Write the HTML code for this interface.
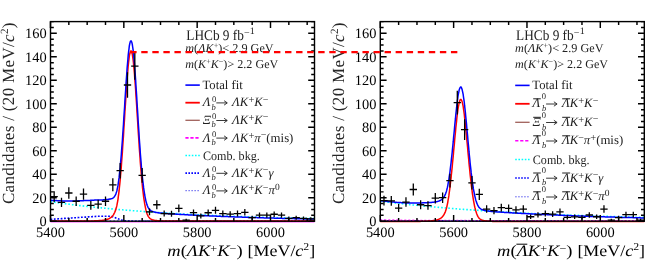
<!DOCTYPE html>
<html><head><meta charset="utf-8"><style>
html,body{margin:0;padding:0;background:#fff;}
svg{display:block;will-change:transform;}
text{font-family:"Liberation Serif",serif;text-rendering:geometricPrecision;}
</style></head><body>
<svg width="661" height="267" viewBox="0 0 661 267">
<g><path d="M50.5,201.7 L52.0,201.9 L53.4,202.1 L54.9,202.3 L56.4,202.5 L57.8,202.8 L59.3,203.0 L60.8,203.2 L62.2,203.4 L63.7,203.5 L65.2,203.7 L66.6,203.9 L68.1,204.1 L69.6,204.3 L71.0,204.5 L72.5,204.7 L74.0,204.9 L75.4,205.0 L76.9,205.2 L78.4,205.4 L79.8,205.6 L81.3,205.7 L82.8,205.9 L84.2,206.1 L85.7,206.2 L87.2,206.4 L88.6,206.6 L90.1,206.7 L91.6,206.9 L93.0,207.0 L94.5,207.2 L96.0,207.3 L97.4,207.5 L98.9,207.6 L100.4,207.8 L101.8,207.9 L103.3,208.1 L104.8,208.2 L106.2,208.4 L107.7,208.5 L109.2,208.6 L110.6,208.8 L112.1,208.9 L113.6,209.1 L115.0,209.2 L116.5,209.3 L118.0,209.4 L119.4,209.6 L120.9,209.7 L122.4,209.8 L123.8,210.0 L125.3,210.1 L126.8,210.2 L128.2,210.3 L129.7,210.4 L131.2,210.6 L132.6,210.7 L134.1,210.8 L135.6,210.9 L137.0,211.0 L138.5,211.1 L140.0,211.2 L141.4,211.3 L142.9,211.5 L144.4,211.6 L145.8,211.7 L147.3,211.8 L148.8,211.9 L150.2,212.0 L151.7,212.1 L153.2,212.2 L154.6,212.3 L156.1,212.4 L157.6,212.5 L159.0,212.6 L160.5,212.7 L162.0,212.8 L163.4,212.8 L164.9,212.9 L166.4,213.0 L167.8,213.1 L169.3,213.2 L170.8,213.3 L172.2,213.4 L173.7,213.5 L175.2,213.5 L176.6,213.6 L178.1,213.7 L179.6,213.8 L181.0,213.9 L182.5,214.0 L184.0,214.0 L185.4,214.1 L186.9,214.2 L188.4,214.3 L189.8,214.3 L191.3,214.4 L192.8,214.5 L194.2,214.6 L195.7,214.6 L197.2,214.7 L198.6,214.8 L200.1,214.9 L201.6,214.9 L203.0,215.0 L204.5,215.1 L206.0,215.1 L207.4,215.2 L208.9,215.3 L210.4,215.3 L211.8,215.4 L213.3,215.5 L214.8,215.5 L216.2,215.6 L217.7,215.6 L219.2,215.7 L220.6,215.8 L222.1,215.8 L223.6,215.9 L225.0,215.9 L226.5,216.0 L228.0,216.1 L229.4,216.1 L230.9,216.2 L232.4,216.2 L233.8,216.3 L235.3,216.3 L236.8,216.4 L238.2,216.4 L239.7,216.5 L241.2,216.5 L242.6,216.6 L244.1,216.6 L245.6,216.7 L247.0,216.7 L248.5,216.8 L250.0,216.8 L251.4,216.9 L252.9,216.9 L254.4,217.0 L255.8,217.0 L257.3,217.1 L258.8,217.1 L260.2,217.2 L261.7,217.2 L263.2,217.2 L264.6,217.3 L266.1,217.3 L267.6,217.4 L269.0,217.4 L270.5,217.5 L272.0,217.5 L273.4,217.5 L274.9,217.6 L276.4,217.6 L277.8,217.7 L279.3,217.7 L280.8,217.7 L282.2,217.8 L283.7,217.8 L285.2,217.8 L286.6,217.9 L288.1,217.9 L289.6,218.0 L291.0,218.0 L292.5,218.0 L294.0,218.1 L295.4,218.1 L296.9,218.1 L298.4,218.2 L299.8,218.2 L301.3,218.2 L302.8,218.3 L304.2,218.3 L305.7,218.3 L307.2,218.4 L308.6,218.4 L310.1,218.4 L311.6,218.4 L313.0,218.5 L314.5,218.5" fill="none" stroke="#00ffff" stroke-width="1.6" stroke-dasharray="1.6,2"/>
<path d="M50.5,219.3 L51.2,219.3 L52.0,219.2 L52.7,219.2 L53.4,219.1 L54.2,219.1 L54.9,219.0 L55.6,219.0 L56.4,218.9 L57.1,218.9 L57.8,218.9 L58.6,218.8 L59.3,218.8 L60.0,218.7 L60.8,218.7 L61.5,218.6 L62.2,218.6 L63.0,218.5 L63.7,218.5 L64.4,218.4 L65.2,218.4 L65.9,218.3 L66.6,218.3 L67.4,218.2 L68.1,218.2 L68.8,218.1 L69.6,218.1 L70.3,218.1 L71.0,218.0 L71.8,218.0 L72.5,217.9 L73.2,217.9 L74.0,217.8 L74.7,217.8 L75.4,217.7 L76.2,217.7 L76.9,217.6 L77.6,217.6 L78.4,217.5 L79.1,217.5 L79.8,217.4 L80.6,217.4 L81.3,217.3 L82.0,217.3 L82.8,217.3 L83.5,217.2 L84.2,217.2 L85.0,217.1 L85.7,217.1 L86.4,217.0 L87.2,217.0 L87.9,216.9 L88.6,216.9 L89.4,216.8 L90.1,216.8 L90.8,216.7 L91.6,216.7 L92.3,216.6 L93.0,216.6 L93.8,216.6 L94.5,216.5 L95.2,216.5 L96.0,216.4 L96.7,216.4 L97.4,216.3 L98.2,216.3 L98.9,216.3 L99.6,216.3 L100.4,216.3 L101.1,216.3 L101.8,216.3 L102.6,216.3 L103.3,216.3 L104.0,216.3 L104.8,216.3 L105.5,216.3 L106.2,216.3 L107.0,216.3 L107.7,216.3 L108.4,216.3 L109.2,216.3 L109.9,216.3 L110.6,216.4 L111.4,216.5 L112.1,216.6 L112.8,216.8 L113.6,217.1 L114.3,217.3 L115.0,217.6 L115.8,217.9 L116.5,218.2 L117.2,218.5 L118.0,218.8 L118.7,219.1 L119.4,219.3 L120.2,219.6 L120.9,219.8 L121.6,220.0 L122.4,220.2 L123.1,220.4 L123.8,220.5 L124.6,220.7 L125.3,220.8 L126.0,220.8 L126.8,220.9 L127.5,221.0 L128.2,221.0 L129.0,221.1 L129.7,221.1 L130.4,221.1 L131.2,221.1 L131.9,221.2 L132.6,221.2 L133.4,221.2 L134.1,221.2 L134.8,221.2 L135.6,221.2 L136.3,221.2 L137.0,221.2 L137.8,221.2 L138.5,221.2 L139.2,221.2 L140.0,221.2 L140.7,221.2 L141.4,221.2 L142.2,221.2 L142.9,221.2 L143.6,221.2 L144.4,221.2 L145.1,221.2 L145.8,221.2 L146.6,221.2 L147.3,221.2 L148.0,221.2 L148.8,221.2 L149.5,221.2 L150.2,221.2 L151.0,221.2 L151.7,221.2 L152.4,221.2 L153.2,221.2 L153.9,221.2 L154.6,221.2 L155.4,221.2 L156.1,221.2 L156.8,221.2 L157.6,221.2 L158.3,221.2 L159.0,221.2 L159.8,221.2 L160.5,221.2 L161.2,221.2 L162.0,221.2 L162.7,221.2 L163.4,221.2 L164.2,221.2 L164.9,221.2 L165.6,221.2 L166.4,221.2 L167.1,221.2 L167.8,221.2 L168.6,221.2 L169.3,221.2 L170.0,221.2 L170.8,221.2 L171.5,221.2 L172.2,221.2 L173.0,221.2 L173.7,221.2 L174.4,221.2 L175.2,221.2 L175.9,221.2 L176.6,221.2 L177.4,221.2 L178.1,221.2 L178.8,221.2 L179.6,221.2 L180.3,221.2 L181.0,221.2 L181.8,221.2 L182.5,221.2 L183.2,221.2 L184.0,221.2 L184.7,221.2 L185.4,221.2 L186.2,221.2 L186.9,221.2 L187.6,221.2 L188.4,221.2 L189.1,221.2 L189.8,221.2 L190.6,221.2 L191.3,221.2 L192.0,221.2 L192.8,221.2 L193.5,221.2 L194.2,221.2 L195.0,221.2 L195.7,221.2 L196.4,221.2 L197.2,221.2 L197.9,221.2 L198.6,221.2 L199.4,221.2 L200.1,221.2 L200.8,221.2 L201.6,221.2 L202.3,221.2 L203.0,221.2 L203.8,221.2 L204.5,221.2 L205.2,221.2 L206.0,221.2 L206.7,221.2 L207.4,221.2 L208.2,221.2 L208.9,221.2 L209.6,221.2 L210.4,221.2 L211.1,221.2 L211.8,221.2 L212.6,221.2 L213.3,221.2 L214.0,221.2 L214.8,221.2 L215.5,221.2 L216.2,221.2 L217.0,221.2 L217.7,221.2 L218.4,221.2 L219.2,221.2 L219.9,221.2 L220.6,221.2 L221.4,221.2 L222.1,221.2 L222.8,221.2 L223.6,221.2 L224.3,221.2 L225.0,221.2 L225.8,221.2 L226.5,221.2 L227.2,221.2 L228.0,221.2 L228.7,221.2 L229.4,221.2 L230.2,221.2 L230.9,221.2 L231.6,221.2 L232.4,221.2 L233.1,221.2 L233.8,221.2 L234.6,221.2 L235.3,221.2 L236.0,221.2 L236.8,221.2 L237.5,221.2 L238.2,221.2 L239.0,221.2 L239.7,221.2 L240.4,221.2 L241.2,221.2 L241.9,221.2 L242.6,221.2 L243.4,221.2 L244.1,221.2 L244.8,221.2 L245.6,221.2 L246.3,221.2 L247.0,221.2 L247.8,221.2 L248.5,221.2 L249.2,221.2 L250.0,221.2 L250.7,221.2 L251.4,221.2 L252.2,221.2 L252.9,221.2 L253.6,221.2 L254.4,221.2 L255.1,221.2 L255.8,221.2 L256.6,221.2 L257.3,221.2 L258.0,221.2 L258.8,221.2 L259.5,221.2 L260.2,221.2 L261.0,221.2 L261.7,221.2 L262.4,221.2 L263.2,221.2 L263.9,221.2 L264.6,221.2 L265.4,221.2 L266.1,221.2 L266.8,221.2 L267.6,221.2 L268.3,221.2 L269.0,221.2 L269.8,221.2 L270.5,221.2 L271.2,221.2 L272.0,221.2 L272.7,221.2 L273.4,221.2 L274.2,221.2 L274.9,221.2 L275.6,221.2 L276.4,221.2 L277.1,221.2 L277.8,221.2 L278.6,221.2 L279.3,221.2 L280.0,221.2 L280.8,221.2 L281.5,221.2 L282.2,221.2 L283.0,221.2 L283.7,221.2 L284.4,221.2 L285.2,221.2 L285.9,221.2 L286.6,221.2 L287.4,221.2 L288.1,221.2 L288.8,221.2 L289.6,221.2 L290.3,221.2 L291.0,221.2 L291.8,221.2 L292.5,221.2 L293.2,221.2 L294.0,221.2 L294.7,221.2 L295.4,221.2 L296.2,221.2 L296.9,221.2 L297.6,221.2 L298.4,221.2 L299.1,221.2 L299.8,221.2 L300.6,221.2 L301.3,221.2 L302.0,221.2 L302.8,221.2 L303.5,221.2 L304.2,221.2 L305.0,221.2 L305.7,221.2 L306.4,221.2 L307.2,221.2 L307.9,221.2 L308.6,221.2 L309.4,221.2 L310.1,221.2 L310.8,221.2 L311.6,221.2 L312.3,221.2 L313.0,221.2 L313.8,221.2 L314.5,221.2" fill="none" stroke="#0000ff" stroke-width="1.6" stroke-dasharray="1.8,1.6"/>
<path d="M50.5,220.9 H314.5" fill="none" stroke="#0000ff" stroke-width="1" stroke-dasharray="1.5,2.2" opacity="0.8"/>
<path d="M50.5,222.3 H314.5" fill="none" stroke="#ff00ff" stroke-width="1" opacity="0.45"/>
<path d="M50.5,221.1 L50.9,221.1 L51.2,221.1 L51.6,221.1 L52.0,221.1 L52.3,221.1 L52.7,221.1 L53.1,221.1 L53.4,221.1 L53.8,221.1 L54.2,221.1 L54.5,221.1 L54.9,221.1 L55.3,221.1 L55.6,221.1 L56.0,221.1 L56.4,221.1 L56.7,221.1 L57.1,221.1 L57.5,221.1 L57.8,221.1 L58.2,221.1 L58.6,221.1 L58.9,221.1 L59.3,221.1 L59.7,221.1 L60.0,221.1 L60.4,221.1 L60.8,221.1 L61.1,221.1 L61.5,221.1 L61.9,221.1 L62.2,221.1 L62.6,221.1 L63.0,221.1 L63.3,221.1 L63.7,221.1 L64.1,221.1 L64.4,221.1 L64.8,221.1 L65.2,221.1 L65.5,221.1 L65.9,221.1 L66.3,221.1 L66.6,221.1 L67.0,221.1 L67.4,221.1 L67.7,221.1 L68.1,221.1 L68.5,221.1 L68.8,221.1 L69.2,221.1 L69.6,221.1 L69.9,221.1 L70.3,221.1 L70.7,221.1 L71.0,221.1 L71.4,221.1 L71.8,221.1 L72.1,221.1 L72.5,221.1 L72.9,221.1 L73.2,221.1 L73.6,221.1 L74.0,221.1 L74.3,221.1 L74.7,221.0 L75.1,221.0 L75.4,221.0 L75.8,221.0 L76.2,221.0 L76.5,221.0 L76.9,221.0 L77.3,221.0 L77.6,221.0 L78.0,221.0 L78.4,221.0 L78.7,221.0 L79.1,221.0 L79.5,221.0 L79.8,221.0 L80.2,221.0 L80.6,221.0 L80.9,221.0 L81.3,221.0 L81.7,221.0 L82.0,221.0 L82.4,221.0 L82.8,221.0 L83.1,221.0 L83.5,221.0 L83.9,221.0 L84.2,221.0 L84.6,221.0 L85.0,221.0 L85.3,221.0 L85.7,221.0 L86.1,221.0 L86.4,221.0 L86.8,221.0 L87.2,221.0 L87.5,221.0 L87.9,221.0 L88.3,221.0 L88.6,221.0 L89.0,221.0 L89.4,220.9 L89.7,220.9 L90.1,220.9 L90.5,220.9 L90.8,220.9 L91.2,220.9 L91.6,220.9 L91.9,220.9 L92.3,220.9 L92.7,220.9 L93.0,220.9 L93.4,220.9 L93.8,220.9 L94.1,220.8 L94.5,220.8 L94.9,220.8 L95.2,220.8 L95.6,220.8 L96.0,220.8 L96.3,220.8 L96.7,220.8 L97.1,220.7 L97.4,220.7 L97.8,220.7 L98.2,220.7 L98.5,220.7 L98.9,220.6 L99.3,220.6 L99.6,220.6 L100.0,220.6 L100.4,220.5 L100.7,220.5 L101.1,220.5 L101.5,220.4 L101.8,220.4 L102.2,220.4 L102.6,220.3 L102.9,220.3 L103.3,220.2 L103.7,220.2 L104.0,220.1 L104.4,220.0 L104.8,220.0 L105.1,219.9 L105.5,219.8 L105.9,219.7 L106.2,219.6 L106.6,219.6 L107.0,219.4 L107.3,219.3 L107.7,219.2 L108.1,219.1 L108.4,218.9 L108.8,218.8 L109.2,218.6 L109.5,218.4 L109.9,218.2 L110.3,218.0 L110.6,217.7 L111.0,217.4 L111.4,217.1 L111.7,216.8 L112.1,216.4 L112.5,216.0 L112.8,215.6 L113.2,215.1 L113.6,214.5 L113.9,213.9 L114.3,213.2 L114.7,212.5 L115.0,211.6 L115.4,210.6 L115.8,209.6 L116.1,208.3 L116.5,207.0 L116.9,205.4 L117.2,203.6 L117.6,201.6 L118.0,199.3 L118.3,196.7 L118.7,193.8 L119.1,190.7 L119.4,187.4 L119.8,183.8 L120.2,180.0 L120.5,175.9 L120.9,171.6 L121.3,167.0 L121.6,162.2 L122.0,157.2 L122.4,152.0 L122.7,146.6 L123.1,141.0 L123.5,135.4 L123.8,129.6 L124.2,123.7 L124.6,117.8 L124.9,111.9 L125.3,106.1 L125.7,100.3 L126.0,94.7 L126.4,89.2 L126.8,83.9 L127.1,78.9 L127.5,74.2 L127.9,69.8 L128.2,65.8 L128.6,62.2 L129.0,59.0 L129.3,56.4 L129.7,54.2 L130.1,52.6 L130.4,51.5 L130.8,50.9 L131.2,50.9 L131.5,51.5 L131.9,52.6 L132.3,54.2 L132.6,56.4 L133.0,59.0 L133.4,62.2 L133.7,65.8 L134.1,69.8 L134.5,74.2 L134.8,78.9 L135.2,83.9 L135.6,89.2 L135.9,94.7 L136.3,100.3 L136.7,106.1 L137.0,111.9 L137.4,117.8 L137.8,123.7 L138.1,129.6 L138.5,135.4 L138.9,141.0 L139.2,146.6 L139.6,152.0 L140.0,157.2 L140.3,162.2 L140.7,167.0 L141.1,171.6 L141.4,175.9 L141.8,180.0 L142.2,183.8 L142.5,187.4 L142.9,190.7 L143.3,193.8 L143.6,196.7 L144.0,199.3 L144.4,201.7 L144.7,203.9 L145.1,205.9 L145.5,207.8 L145.8,209.4 L146.2,210.9 L146.6,212.2 L146.9,213.3 L147.3,214.4 L147.7,215.2 L148.0,216.0 L148.4,216.6 L148.8,217.1 L149.1,217.6 L149.5,218.0 L149.9,218.3 L150.2,218.6 L150.6,218.9 L151.0,219.1 L151.3,219.3 L151.7,219.5 L152.1,219.7 L152.4,219.8 L152.8,219.9 L153.2,220.0 L153.5,220.1 L153.9,220.2 L154.3,220.3 L154.6,220.4 L155.0,220.4 L155.4,220.5 L155.7,220.5 L156.1,220.6 L156.5,220.6 L156.8,220.6 L157.2,220.7 L157.6,220.7 L157.9,220.7 L158.3,220.8 L158.7,220.8 L159.0,220.8 L159.4,220.8 L159.8,220.8 L160.1,220.9 L160.5,220.9 L160.9,220.9 L161.2,220.9 L161.6,220.9 L162.0,220.9 L162.3,220.9 L162.7,220.9 L163.1,221.0 L163.4,221.0 L163.8,221.0 L164.2,221.0 L164.5,221.0 L164.9,221.0 L165.3,221.0 L165.6,221.0 L166.0,221.0 L166.4,221.0 L166.7,221.0 L167.1,221.0 L167.5,221.0 L167.8,221.0 L168.2,221.0 L168.6,221.0 L168.9,221.0 L169.3,221.0 L169.7,221.0 L170.0,221.0 L170.4,221.0 L170.8,221.0 L171.1,221.0 L171.5,221.0 L171.9,221.0 L172.2,221.0 L172.6,221.1 L173.0,221.1 L173.3,221.1 L173.7,221.1 L174.1,221.1 L174.4,221.1 L174.8,221.1 L175.2,221.1 L175.5,221.1 L175.9,221.1 L176.3,221.1 L176.6,221.1 L177.0,221.1 L177.4,221.1 L177.7,221.1 L178.1,221.1 L178.5,221.1 L178.8,221.1 L179.2,221.1 L179.6,221.1 L179.9,221.1 L180.3,221.1 L180.7,221.1 L181.0,221.1 L181.4,221.1 L181.8,221.1 L182.1,221.1 L182.5,221.1 L182.9,221.1 L183.2,221.1 L183.6,221.1 L184.0,221.1 L184.3,221.1 L184.7,221.1 L185.1,221.1 L185.4,221.1 L185.8,221.1 L186.2,221.1 L186.5,221.1 L186.9,221.1 L187.3,221.1 L187.6,221.1 L188.0,221.1 L188.4,221.1 L188.7,221.1 L189.1,221.1 L189.5,221.1 L189.8,221.1 L190.2,221.1 L190.6,221.1 L190.9,221.1 L191.3,221.1 L191.7,221.1 L192.0,221.1 L192.4,221.1 L192.8,221.1 L193.1,221.1 L193.5,221.1 L193.9,221.1 L194.2,221.1 L194.6,221.1 L195.0,221.1 L195.3,221.1 L195.7,221.1 L196.1,221.1 L196.4,221.1 L196.8,221.1 L197.2,221.1 L197.5,221.1 L197.9,221.1 L198.3,221.1 L198.6,221.1 L199.0,221.1 L199.4,221.1 L199.7,221.1 L200.1,221.1 L200.5,221.1 L200.8,221.1 L201.2,221.1 L201.6,221.1 L201.9,221.1 L202.3,221.1 L202.7,221.1 L203.0,221.1 L203.4,221.1 L203.8,221.1 L204.1,221.1 L204.5,221.1 L204.9,221.1 L205.2,221.1 L205.6,221.1 L206.0,221.1 L206.3,221.1 L206.7,221.1 L207.1,221.1 L207.4,221.1 L207.8,221.1 L208.2,221.1 L208.5,221.1 L208.9,221.1 L209.3,221.1 L209.6,221.1 L210.0,221.1 L210.4,221.1 L210.7,221.1 L211.1,221.1 L211.5,221.1 L211.8,221.1 L212.2,221.1 L212.6,221.1 L212.9,221.1 L213.3,221.1 L213.7,221.1 L214.0,221.1 L214.4,221.1 L214.8,221.1 L215.1,221.1 L215.5,221.1 L215.9,221.1 L216.2,221.1 L216.6,221.1 L217.0,221.1 L217.3,221.1 L217.7,221.1 L218.1,221.1 L218.4,221.1 L218.8,221.1 L219.2,221.1 L219.5,221.1 L219.9,221.1 L220.3,221.1 L220.6,221.1 L221.0,221.1 L221.4,221.1 L221.7,221.1 L222.1,221.1 L222.5,221.1 L222.8,221.1 L223.2,221.1 L223.6,221.1 L223.9,221.1 L224.3,221.1 L224.7,221.1 L225.0,221.1 L225.4,221.1 L225.8,221.1 L226.1,221.1 L226.5,221.1 L226.9,221.1 L227.2,221.1 L227.6,221.1 L228.0,221.1 L228.3,221.1 L228.7,221.1 L229.1,221.1 L229.4,221.1 L229.8,221.1 L230.2,221.1 L230.5,221.1 L230.9,221.1 L231.3,221.1 L231.6,221.1 L232.0,221.1 L232.4,221.1 L232.7,221.1 L233.1,221.1 L233.5,221.1 L233.8,221.1 L234.2,221.1 L234.6,221.1 L234.9,221.1 L235.3,221.1 L235.7,221.1 L236.0,221.1 L236.4,221.1 L236.8,221.1 L237.1,221.1 L237.5,221.1 L237.9,221.1 L238.2,221.1 L238.6,221.1 L239.0,221.1 L239.3,221.1 L239.7,221.1 L240.1,221.1 L240.4,221.1 L240.8,221.1 L241.2,221.1 L241.5,221.1 L241.9,221.1 L242.3,221.1 L242.6,221.1 L243.0,221.1 L243.4,221.1 L243.7,221.1 L244.1,221.1 L244.5,221.1 L244.8,221.1 L245.2,221.1 L245.6,221.1 L245.9,221.1 L246.3,221.1 L246.7,221.1 L247.0,221.1 L247.4,221.1 L247.8,221.1 L248.1,221.1 L248.5,221.1 L248.9,221.1 L249.2,221.1 L249.6,221.1 L250.0,221.1 L250.3,221.1 L250.7,221.1 L251.1,221.1 L251.4,221.1 L251.8,221.1 L252.2,221.1 L252.5,221.1 L252.9,221.1 L253.3,221.1 L253.6,221.1 L254.0,221.1 L254.4,221.1 L254.7,221.1 L255.1,221.1 L255.5,221.1 L255.8,221.1 L256.2,221.1 L256.6,221.1 L256.9,221.1 L257.3,221.1 L257.7,221.1 L258.0,221.1 L258.4,221.1 L258.8,221.1 L259.1,221.1 L259.5,221.1 L259.9,221.1 L260.2,221.1 L260.6,221.1 L261.0,221.1 L261.3,221.1 L261.7,221.1 L262.1,221.1 L262.4,221.1 L262.8,221.1 L263.2,221.1 L263.5,221.1 L263.9,221.1 L264.3,221.1 L264.6,221.1 L265.0,221.1 L265.4,221.1 L265.7,221.1 L266.1,221.1 L266.5,221.1 L266.8,221.1 L267.2,221.1 L267.6,221.1 L267.9,221.1 L268.3,221.1 L268.7,221.1 L269.0,221.1 L269.4,221.1 L269.8,221.1 L270.1,221.1 L270.5,221.1 L270.9,221.1 L271.2,221.1 L271.6,221.1 L272.0,221.1 L272.3,221.1 L272.7,221.1 L273.1,221.1 L273.4,221.1 L273.8,221.1 L274.2,221.1 L274.5,221.1 L274.9,221.1 L275.3,221.1 L275.6,221.1 L276.0,221.1 L276.4,221.1 L276.7,221.1 L277.1,221.1 L277.5,221.1 L277.8,221.1 L278.2,221.1 L278.6,221.1 L278.9,221.1 L279.3,221.1 L279.7,221.1 L280.0,221.1 L280.4,221.1 L280.8,221.1 L281.1,221.1 L281.5,221.1 L281.9,221.1 L282.2,221.1 L282.6,221.1 L283.0,221.1 L283.3,221.1 L283.7,221.1 L284.1,221.1 L284.4,221.1 L284.8,221.1 L285.2,221.1 L285.5,221.1 L285.9,221.1 L286.3,221.1 L286.6,221.1 L287.0,221.1 L287.4,221.1 L287.7,221.1 L288.1,221.1 L288.5,221.1 L288.8,221.1 L289.2,221.1 L289.6,221.1 L289.9,221.1 L290.3,221.1 L290.7,221.1 L291.0,221.1 L291.4,221.1 L291.8,221.1 L292.1,221.1 L292.5,221.1 L292.9,221.1 L293.2,221.1 L293.6,221.1 L294.0,221.1 L294.3,221.1 L294.7,221.1 L295.1,221.1 L295.4,221.1 L295.8,221.1 L296.2,221.1 L296.5,221.1 L296.9,221.1 L297.3,221.1 L297.6,221.1 L298.0,221.1 L298.4,221.1 L298.7,221.1 L299.1,221.1 L299.5,221.1 L299.8,221.1 L300.2,221.1 L300.6,221.1 L300.9,221.1 L301.3,221.1 L301.7,221.1 L302.0,221.1 L302.4,221.1 L302.8,221.1 L303.1,221.1 L303.5,221.1 L303.9,221.1 L304.2,221.1 L304.6,221.1 L305.0,221.1 L305.3,221.1 L305.7,221.1 L306.1,221.1 L306.4,221.1 L306.8,221.1 L307.2,221.1 L307.5,221.1 L307.9,221.1 L308.3,221.1 L308.6,221.1 L309.0,221.1 L309.4,221.1 L309.7,221.1 L310.1,221.1 L310.5,221.1 L310.8,221.1 L311.2,221.1 L311.6,221.1 L311.9,221.1 L312.3,221.1 L312.7,221.1 L313.0,221.1 L313.4,221.1 L313.8,221.1 L314.1,221.1 L314.5,221.1" fill="none" stroke="#ff0000" stroke-width="1.5"/>
<path d="M50.5,200.3 L50.9,200.3 L51.2,200.3 L51.6,200.3 L52.0,200.4 L52.3,200.4 L52.7,200.4 L53.1,200.4 L53.4,200.5 L53.8,200.5 L54.2,200.5 L54.5,200.5 L54.9,200.5 L55.3,200.6 L55.6,200.6 L56.0,200.6 L56.4,200.6 L56.7,200.6 L57.1,200.7 L57.5,200.7 L57.8,200.7 L58.2,200.7 L58.6,200.7 L58.9,200.7 L59.3,200.8 L59.7,200.8 L60.0,200.8 L60.4,200.8 L60.8,200.8 L61.1,200.8 L61.5,200.8 L61.9,200.8 L62.2,200.9 L62.6,200.9 L63.0,200.9 L63.3,200.9 L63.7,200.9 L64.1,200.9 L64.4,200.9 L64.8,200.9 L65.2,200.9 L65.5,200.9 L65.9,200.9 L66.3,200.9 L66.6,200.9 L67.0,201.0 L67.4,201.0 L67.7,201.0 L68.1,201.0 L68.5,201.0 L68.8,201.0 L69.2,201.0 L69.6,201.0 L69.9,201.0 L70.3,201.0 L70.7,201.0 L71.0,201.0 L71.4,201.0 L71.8,201.0 L72.1,201.0 L72.5,201.0 L72.9,201.0 L73.2,200.9 L73.6,200.9 L74.0,200.9 L74.3,200.9 L74.7,200.9 L75.1,200.9 L75.4,200.9 L75.8,200.9 L76.2,200.9 L76.5,200.9 L76.9,200.9 L77.3,200.9 L77.6,200.9 L78.0,200.8 L78.4,200.8 L78.7,200.8 L79.1,200.8 L79.5,200.8 L79.8,200.8 L80.2,200.8 L80.6,200.8 L80.9,200.8 L81.3,200.7 L81.7,200.7 L82.0,200.7 L82.4,200.7 L82.8,200.7 L83.1,200.7 L83.5,200.7 L83.9,200.6 L84.2,200.6 L84.6,200.6 L85.0,200.6 L85.3,200.6 L85.7,200.6 L86.1,200.5 L86.4,200.5 L86.8,200.5 L87.2,200.5 L87.5,200.5 L87.9,200.5 L88.3,200.4 L88.6,200.4 L89.0,200.4 L89.4,200.4 L89.7,200.4 L90.1,200.4 L90.5,200.3 L90.8,200.3 L91.2,200.3 L91.6,200.3 L91.9,200.3 L92.3,200.2 L92.7,200.2 L93.0,200.2 L93.4,200.2 L93.8,200.2 L94.1,200.2 L94.5,200.1 L94.9,200.1 L95.2,200.1 L95.6,200.1 L96.0,200.1 L96.3,200.0 L96.7,200.0 L97.1,200.0 L97.4,200.0 L97.8,200.0 L98.2,199.9 L98.5,199.9 L98.9,199.9 L99.3,199.9 L99.6,199.9 L100.0,199.9 L100.4,199.9 L100.7,199.9 L101.1,199.9 L101.5,199.9 L101.8,199.9 L102.2,199.9 L102.6,199.9 L102.9,199.9 L103.3,199.8 L103.7,199.8 L104.0,199.8 L104.4,199.8 L104.8,199.7 L105.1,199.7 L105.5,199.6 L105.9,199.6 L106.2,199.6 L106.6,199.5 L107.0,199.5 L107.3,199.4 L107.7,199.4 L108.1,199.4 L108.4,199.3 L108.8,199.3 L109.2,199.2 L109.5,199.1 L109.9,199.1 L110.3,199.0 L110.6,198.9 L111.0,198.8 L111.4,198.7 L111.7,198.6 L112.1,198.5 L112.5,198.3 L112.8,198.1 L113.2,197.8 L113.6,197.5 L113.9,197.2 L114.3,196.7 L114.7,196.2 L115.0,195.6 L115.4,194.9 L115.8,194.1 L116.1,193.2 L116.5,192.0 L116.9,190.7 L117.2,189.2 L117.6,187.4 L118.0,185.4 L118.3,183.0 L118.7,180.3 L119.1,177.4 L119.4,174.3 L119.8,170.9 L120.2,167.3 L120.5,163.3 L120.9,159.2 L121.3,154.8 L121.6,150.2 L122.0,145.3 L122.4,140.2 L122.7,135.0 L123.1,129.5 L123.5,124.0 L123.8,118.3 L124.2,112.5 L124.6,106.8 L124.9,101.0 L125.3,95.2 L125.7,89.5 L126.0,83.9 L126.4,78.5 L126.8,73.3 L127.1,68.4 L127.5,63.7 L127.9,59.4 L128.2,55.4 L128.6,51.9 L129.0,48.8 L129.3,46.2 L129.7,44.0 L130.1,42.4 L130.4,41.4 L130.8,40.9 L131.2,40.9 L131.5,41.5 L131.9,42.6 L132.3,44.3 L132.6,46.5 L133.0,49.2 L133.4,52.4 L133.7,56.0 L134.1,60.1 L134.5,64.5 L134.8,69.2 L135.2,74.3 L135.6,79.6 L135.9,85.1 L136.3,90.8 L136.7,96.6 L137.0,102.4 L137.4,108.4 L137.8,114.3 L138.1,120.2 L138.5,126.0 L138.9,131.7 L139.2,137.3 L139.6,142.7 L140.0,147.9 L140.3,153.0 L140.7,157.8 L141.1,162.4 L141.4,166.7 L141.8,170.8 L142.2,174.7 L142.5,178.3 L142.9,181.7 L143.3,184.8 L143.6,187.7 L144.0,190.4 L144.4,192.8 L144.7,195.0 L145.1,197.1 L145.5,198.9 L145.8,200.6 L146.2,202.0 L146.6,203.4 L146.9,204.6 L147.3,205.6 L147.7,206.5 L148.0,207.3 L148.4,207.9 L148.8,208.5 L149.1,209.0 L149.5,209.4 L149.9,209.8 L150.2,210.1 L150.6,210.4 L151.0,210.7 L151.3,210.9 L151.7,211.1 L152.1,211.3 L152.4,211.4 L152.8,211.6 L153.2,211.7 L153.5,211.8 L153.9,211.9 L154.3,212.0 L154.6,212.1 L155.0,212.2 L155.4,212.3 L155.7,212.4 L156.1,212.4 L156.5,212.5 L156.8,212.6 L157.2,212.6 L157.6,212.7 L157.9,212.7 L158.3,212.8 L158.7,212.8 L159.0,212.9 L159.4,212.9 L159.8,213.0 L160.1,213.0 L160.5,213.0 L160.9,213.1 L161.2,213.1 L161.6,213.1 L162.0,213.2 L162.3,213.2 L162.7,213.2 L163.1,213.3 L163.4,213.3 L163.8,213.3 L164.2,213.4 L164.5,213.4 L164.9,213.4 L165.3,213.5 L165.6,213.5 L166.0,213.5 L166.4,213.5 L166.7,213.6 L167.1,213.6 L167.5,213.6 L167.8,213.6 L168.2,213.7 L168.6,213.7 L168.9,213.7 L169.3,213.7 L169.7,213.8 L170.0,213.8 L170.4,213.8 L170.8,213.8 L171.1,213.9 L171.5,213.9 L171.9,213.9 L172.2,213.9 L172.6,214.0 L173.0,214.0 L173.3,214.0 L173.7,214.0 L174.1,214.0 L174.4,214.1 L174.8,214.1 L175.2,214.1 L175.5,214.1 L175.9,214.2 L176.3,214.2 L176.6,214.2 L177.0,214.2 L177.4,214.2 L177.7,214.3 L178.1,214.3 L178.5,214.3 L178.8,214.3 L179.2,214.3 L179.6,214.4 L179.9,214.4 L180.3,214.4 L180.7,214.4 L181.0,214.5 L181.4,214.5 L181.8,214.5 L182.1,214.5 L182.5,214.5 L182.9,214.6 L183.2,214.6 L183.6,214.6 L184.0,214.6 L184.3,214.6 L184.7,214.7 L185.1,214.7 L185.4,214.7 L185.8,214.7 L186.2,214.7 L186.5,214.8 L186.9,214.8 L187.3,214.8 L187.6,214.8 L188.0,214.8 L188.4,214.9 L188.7,214.9 L189.1,214.9 L189.5,214.9 L189.8,214.9 L190.2,214.9 L190.6,215.0 L190.9,215.0 L191.3,215.0 L191.7,215.0 L192.0,215.0 L192.4,215.1 L192.8,215.1 L193.1,215.1 L193.5,215.1 L193.9,215.1 L194.2,215.2 L194.6,215.2 L195.0,215.2 L195.3,215.2 L195.7,215.2 L196.1,215.2 L196.4,215.3 L196.8,215.3 L197.2,215.3 L197.5,215.3 L197.9,215.3 L198.3,215.4 L198.6,215.4 L199.0,215.4 L199.4,215.4 L199.7,215.4 L200.1,215.4 L200.5,215.5 L200.8,215.5 L201.2,215.5 L201.6,215.5 L201.9,215.5 L202.3,215.5 L202.7,215.6 L203.0,215.6 L203.4,215.6 L203.8,215.6 L204.1,215.6 L204.5,215.6 L204.9,215.7 L205.2,215.7 L205.6,215.7 L206.0,215.7 L206.3,215.7 L206.7,215.7 L207.1,215.8 L207.4,215.8 L207.8,215.8 L208.2,215.8 L208.5,215.8 L208.9,215.8 L209.3,215.9 L209.6,215.9 L210.0,215.9 L210.4,215.9 L210.7,215.9 L211.1,215.9 L211.5,216.0 L211.8,216.0 L212.2,216.0 L212.6,216.0 L212.9,216.0 L213.3,216.0 L213.7,216.1 L214.0,216.1 L214.4,216.1 L214.8,216.1 L215.1,216.1 L215.5,216.1 L215.9,216.1 L216.2,216.2 L216.6,216.2 L217.0,216.2 L217.3,216.2 L217.7,216.2 L218.1,216.2 L218.4,216.3 L218.8,216.3 L219.2,216.3 L219.5,216.3 L219.9,216.3 L220.3,216.3 L220.6,216.3 L221.0,216.4 L221.4,216.4 L221.7,216.4 L222.1,216.4 L222.5,216.4 L222.8,216.4 L223.2,216.4 L223.6,216.5 L223.9,216.5 L224.3,216.5 L224.7,216.5 L225.0,216.5 L225.4,216.5 L225.8,216.6 L226.1,216.6 L226.5,216.6 L226.9,216.6 L227.2,216.6 L227.6,216.6 L228.0,216.6 L228.3,216.7 L228.7,216.7 L229.1,216.7 L229.4,216.7 L229.8,216.7 L230.2,216.7 L230.5,216.7 L230.9,216.7 L231.3,216.8 L231.6,216.8 L232.0,216.8 L232.4,216.8 L232.7,216.8 L233.1,216.8 L233.5,216.8 L233.8,216.9 L234.2,216.9 L234.6,216.9 L234.9,216.9 L235.3,216.9 L235.7,216.9 L236.0,216.9 L236.4,217.0 L236.8,217.0 L237.1,217.0 L237.5,217.0 L237.9,217.0 L238.2,217.0 L238.6,217.0 L239.0,217.0 L239.3,217.1 L239.7,217.1 L240.1,217.1 L240.4,217.1 L240.8,217.1 L241.2,217.1 L241.5,217.1 L241.9,217.1 L242.3,217.2 L242.6,217.2 L243.0,217.2 L243.4,217.2 L243.7,217.2 L244.1,217.2 L244.5,217.2 L244.8,217.2 L245.2,217.3 L245.6,217.3 L245.9,217.3 L246.3,217.3 L246.7,217.3 L247.0,217.3 L247.4,217.3 L247.8,217.3 L248.1,217.4 L248.5,217.4 L248.9,217.4 L249.2,217.4 L249.6,217.4 L250.0,217.4 L250.3,217.4 L250.7,217.4 L251.1,217.5 L251.4,217.5 L251.8,217.5 L252.2,217.5 L252.5,217.5 L252.9,217.5 L253.3,217.5 L253.6,217.5 L254.0,217.6 L254.4,217.6 L254.7,217.6 L255.1,217.6 L255.5,217.6 L255.8,217.6 L256.2,217.6 L256.6,217.6 L256.9,217.6 L257.3,217.7 L257.7,217.7 L258.0,217.7 L258.4,217.7 L258.8,217.7 L259.1,217.7 L259.5,217.7 L259.9,217.7 L260.2,217.7 L260.6,217.8 L261.0,217.8 L261.3,217.8 L261.7,217.8 L262.1,217.8 L262.4,217.8 L262.8,217.8 L263.2,217.8 L263.5,217.8 L263.9,217.9 L264.3,217.9 L264.6,217.9 L265.0,217.9 L265.4,217.9 L265.7,217.9 L266.1,217.9 L266.5,217.9 L266.8,217.9 L267.2,218.0 L267.6,218.0 L267.9,218.0 L268.3,218.0 L268.7,218.0 L269.0,218.0 L269.4,218.0 L269.8,218.0 L270.1,218.0 L270.5,218.0 L270.9,218.1 L271.2,218.1 L271.6,218.1 L272.0,218.1 L272.3,218.1 L272.7,218.1 L273.1,218.1 L273.4,218.1 L273.8,218.1 L274.2,218.1 L274.5,218.2 L274.9,218.2 L275.3,218.2 L275.6,218.2 L276.0,218.2 L276.4,218.2 L276.7,218.2 L277.1,218.2 L277.5,218.2 L277.8,218.2 L278.2,218.3 L278.6,218.3 L278.9,218.3 L279.3,218.3 L279.7,218.3 L280.0,218.3 L280.4,218.3 L280.8,218.3 L281.1,218.3 L281.5,218.3 L281.9,218.3 L282.2,218.4 L282.6,218.4 L283.0,218.4 L283.3,218.4 L283.7,218.4 L284.1,218.4 L284.4,218.4 L284.8,218.4 L285.2,218.4 L285.5,218.4 L285.9,218.5 L286.3,218.5 L286.6,218.5 L287.0,218.5 L287.4,218.5 L287.7,218.5 L288.1,218.5 L288.5,218.5 L288.8,218.5 L289.2,218.5 L289.6,218.5 L289.9,218.6 L290.3,218.6 L290.7,218.6 L291.0,218.6 L291.4,218.6 L291.8,218.6 L292.1,218.6 L292.5,218.6 L292.9,218.6 L293.2,218.6 L293.6,218.6 L294.0,218.6 L294.3,218.7 L294.7,218.7 L295.1,218.7 L295.4,218.7 L295.8,218.7 L296.2,218.7 L296.5,218.7 L296.9,218.7 L297.3,218.7 L297.6,218.7 L298.0,218.7 L298.4,218.7 L298.7,218.8 L299.1,218.8 L299.5,218.8 L299.8,218.8 L300.2,218.8 L300.6,218.8 L300.9,218.8 L301.3,218.8 L301.7,218.8 L302.0,218.8 L302.4,218.8 L302.8,218.8 L303.1,218.9 L303.5,218.9 L303.9,218.9 L304.2,218.9 L304.6,218.9 L305.0,218.9 L305.3,218.9 L305.7,218.9 L306.1,218.9 L306.4,218.9 L306.8,218.9 L307.2,218.9 L307.5,219.0 L307.9,219.0 L308.3,219.0 L308.6,219.0 L309.0,219.0 L309.4,219.0 L309.7,219.0 L310.1,219.0 L310.5,219.0 L310.8,219.0 L311.2,219.0 L311.6,219.0 L311.9,219.0 L312.3,219.1 L312.7,219.1 L313.0,219.1 L313.4,219.1 L313.8,219.1 L314.1,219.1 L314.5,219.1" fill="none" stroke="#0000ff" stroke-width="1.5"/>
<path d="M50.50,196.54 H57.83 M54.17,191.16 V201.92 M57.83,202.41 H65.17 M61.50,197.72 V207.11 M65.17,193.02 H72.50 M68.83,187.27 V198.77 M72.50,201.24 H79.83 M76.17,196.40 V206.08 M79.83,194.20 H87.17 M83.50,188.56 V199.83 M87.17,205.35 H94.50 M90.83,201.04 V209.66 M94.50,204.18 H101.83 M98.17,199.70 V208.65 M101.83,201.24 H109.17 M105.50,196.40 V206.08 M109.17,184.80 H116.50 M112.83,178.27 V191.34 M116.50,170.71 H123.83 M120.17,163.01 V178.41 M123.83,85.00 H131.17 M127.50,72.36 V97.65 M131.17,66.22 H138.50 M134.83,52.73 V79.71 M138.50,175.41 H145.83 M142.17,168.08 V182.74 M145.83,211.81 H153.17 M149.50,208.49 V215.13 M153.17,204.76 H160.50 M156.83,200.37 V209.16 M160.50,213.57 H167.83 M164.17,210.57 V216.56 M167.83,213.80 H175.17 M171.50,210.86 V216.75 M175.17,208.28 H182.50 M178.83,204.39 V212.18 M182.50,220.03 H189.83 M186.17,218.85 V221.20 M189.83,212.63 H197.17 M193.50,209.46 V215.80 M197.17,215.92 H204.50 M200.83,213.43 V218.41 M204.50,212.75 H211.83 M208.17,209.60 V215.90 M211.83,210.28 H219.17 M215.50,206.70 V213.86 M219.17,213.57 H226.50 M222.83,210.57 V216.56 M226.50,214.16 H233.83 M230.17,211.28 V217.03 M233.83,213.57 H241.17 M237.50,210.57 V216.56 M241.17,212.28 H248.50 M244.83,209.04 V215.51 M248.50,217.68 H255.83 M252.17,215.64 V219.71 M255.83,215.09 H263.17 M259.50,212.42 V217.77 M263.17,215.09 H270.50 M266.83,212.42 V217.77 M270.50,214.27 H277.83 M274.17,211.42 V217.12 M277.83,215.09 H285.17 M281.50,212.42 V217.77 M285.17,218.38 H292.50 M288.83,216.56 V220.20 M292.50,217.68 H299.83 M296.17,215.64 V219.71 M299.83,218.38 H307.17 M303.50,216.56 V220.20 M307.17,218.85 H314.50 M310.83,217.19 V220.51" fill="none" stroke="#000" stroke-width="1.3"/>
<path d="M50.50,221.20 V214.90 M50.50,21.60 V27.90 M68.83,221.20 V217.90 M68.83,21.60 V24.90 M87.17,221.20 V217.90 M87.17,21.60 V24.90 M105.50,221.20 V217.90 M105.50,21.60 V24.90 M123.83,221.20 V214.90 M123.83,21.60 V27.90 M142.17,221.20 V217.90 M142.17,21.60 V24.90 M160.50,221.20 V217.90 M160.50,21.60 V24.90 M178.83,221.20 V217.90 M178.83,21.60 V24.90 M197.17,221.20 V214.90 M197.17,21.60 V27.90 M215.50,221.20 V217.90 M215.50,21.60 V24.90 M233.83,221.20 V217.90 M233.83,21.60 V24.90 M252.17,221.20 V217.90 M252.17,21.60 V24.90 M270.50,221.20 V214.90 M270.50,21.60 V27.90 M288.83,221.20 V217.90 M288.83,21.60 V24.90 M307.17,221.20 V217.90 M307.17,21.60 V24.90 M50.50,221.20 H56.80 M314.50,221.20 H308.20 M50.50,215.33 H53.80 M314.50,215.33 H311.20 M50.50,209.46 H53.80 M314.50,209.46 H311.20 M50.50,203.59 H53.80 M314.50,203.59 H311.20 M50.50,197.72 H56.80 M314.50,197.72 H308.20 M50.50,191.85 H53.80 M314.50,191.85 H311.20 M50.50,185.98 H53.80 M314.50,185.98 H311.20 M50.50,180.11 H53.80 M314.50,180.11 H311.20 M50.50,174.24 H56.80 M314.50,174.24 H308.20 M50.50,168.36 H53.80 M314.50,168.36 H311.20 M50.50,162.49 H53.80 M314.50,162.49 H311.20 M50.50,156.62 H53.80 M314.50,156.62 H311.20 M50.50,150.75 H56.80 M314.50,150.75 H308.20 M50.50,144.88 H53.80 M314.50,144.88 H311.20 M50.50,139.01 H53.80 M314.50,139.01 H311.20 M50.50,133.14 H53.80 M314.50,133.14 H311.20 M50.50,127.27 H56.80 M314.50,127.27 H308.20 M50.50,121.40 H53.80 M314.50,121.40 H311.20 M50.50,115.53 H53.80 M314.50,115.53 H311.20 M50.50,109.66 H53.80 M314.50,109.66 H311.20 M50.50,103.79 H56.80 M314.50,103.79 H308.20 M50.50,97.92 H53.80 M314.50,97.92 H311.20 M50.50,92.05 H53.80 M314.50,92.05 H311.20 M50.50,86.18 H53.80 M314.50,86.18 H311.20 M50.50,80.31 H56.80 M314.50,80.31 H308.20 M50.50,74.44 H53.80 M314.50,74.44 H311.20 M50.50,68.56 H53.80 M314.50,68.56 H311.20 M50.50,62.69 H53.80 M314.50,62.69 H311.20 M50.50,56.82 H56.80 M314.50,56.82 H308.20 M50.50,50.95 H53.80 M314.50,50.95 H311.20 M50.50,45.08 H53.80 M314.50,45.08 H311.20 M50.50,39.21 H53.80 M314.50,39.21 H311.20 M50.50,33.34 H56.80 M314.50,33.34 H308.20 M50.50,27.47 H53.80 M314.50,27.47 H311.20 M50.50,21.60 H53.80 M314.50,21.60 H311.20" fill="none" stroke="#000" stroke-width="1.45"/>
<rect x="50.50" y="21.60" width="264.00" height="199.60" fill="none" stroke="#000" stroke-width="1.4"/>
<g font-size="14.4" fill="#000"><text x="46.6" y="226.20" text-anchor="end">0</text><text x="46.6" y="202.72" text-anchor="end">20</text><text x="46.6" y="179.24" text-anchor="end">40</text><text x="46.6" y="155.75" text-anchor="end">60</text><text x="46.6" y="132.27" text-anchor="end">80</text><text x="46.6" y="108.79" text-anchor="end">100</text><text x="46.6" y="85.31" text-anchor="end">120</text><text x="46.6" y="61.82" text-anchor="end">140</text><text x="46.6" y="38.34" text-anchor="end">160</text><text x="50.50" y="237.2" text-anchor="middle">5400</text><text x="123.83" y="237.2" text-anchor="middle">5600</text><text x="197.17" y="237.2" text-anchor="middle">5800</text><text x="270.50" y="237.2" text-anchor="middle">6000</text></g>
<g transform="translate(14.0,204.1) rotate(-90)"><text x="0.00" y="0.00" font-size="17.00" fill="#262626" textLength="181.5" lengthAdjust="spacing"><tspan >Candidates / (20 MeV/</tspan><tspan font-style="italic">c</tspan><tspan dy="-5.80" font-size="11.00">2</tspan><tspan dy="5.80">)</tspan></text></g>
<text x="167.30" y="255.60" font-size="16.00" fill="#000" textLength="75.3" lengthAdjust="spacingAndGlyphs"><tspan font-style="italic">m</tspan><tspan >(</tspan><tspan font-style="italic">Λ</tspan><tspan font-style="italic">K</tspan><tspan dy="-3.80" font-size="10.50">+</tspan><tspan dy="3.80" font-style="italic">K</tspan><tspan dy="-3.80" font-size="10.50">−</tspan><tspan dy="3.80">)</tspan></text>
<text x="247.60" y="255.50" font-size="16.00" fill="#000" textLength="67.6" lengthAdjust="spacingAndGlyphs"><tspan >[MeV/</tspan><tspan font-style="italic">c</tspan><tspan dy="-5.50" font-size="10.50">2</tspan><tspan dy="5.50">]</tspan></text>
<g><text x="186.30" y="39.50" font-size="14.60" fill="#222" textLength="57.6" lengthAdjust="spacingAndGlyphs"><tspan >LHCb 9 fb</tspan></text>
<text x="244.00" y="39.50" font-size="10.00" fill="#222" ><tspan dy="-3.60" font-size="10.00">−</tspan><tspan dx="0.20" dy="-1.60" font-size="10.00">1</tspan></text>
<text x="185.30" y="52.30" font-size="12.00" fill="#222" textLength="88.4" lengthAdjust="spacingAndGlyphs"><tspan font-style="italic">m</tspan><tspan >(</tspan><tspan font-style="italic">ΛK</tspan><tspan dy="-4.50" font-size="8.00">+</tspan><tspan dy="4.50">)</tspan><tspan >&lt; 2.9 GeV</tspan></text>
<text x="185.30" y="68.00" font-size="12.00" fill="#222" textLength="93" lengthAdjust="spacingAndGlyphs"><tspan font-style="italic">m</tspan><tspan >(</tspan><tspan font-style="italic">K</tspan><tspan dy="-4.50" font-size="8.00">+</tspan><tspan dy="4.50" font-style="italic">K</tspan><tspan dy="-4.50" font-size="8.00">−</tspan><tspan dy="4.50">)</tspan><tspan >&gt; 2.2 GeV</tspan></text>
<path d="M185.4,85.10 H199.8" stroke="#0000ff" stroke-width="1.6" />
<path d="M185.4,102.70 H199.8" stroke="#ff0000" stroke-width="1.8" />
<path d="M185.4,120.30 H199.8" stroke="#a0605a" stroke-width="1.3" />
<path d="M185.4,137.90 H199.8" stroke="#ff00ff" stroke-width="1.6" stroke-dasharray="3.2,1.8"/>
<path d="M185.4,155.50 H199.8" stroke="#00ffff" stroke-width="1.5" stroke-dasharray="1.6,1.6"/>
<path d="M185.4,173.10 H199.8" stroke="#0000ff" stroke-width="1.7" stroke-dasharray="1.6,1.4"/>
<path d="M185.4,190.70 H199.8" stroke="#5555ee" stroke-width="1" stroke-dasharray="1.5,1.5"/>
<text x="202.50" y="88.90" font-size="12.80" fill="#222" textLength="40.3" lengthAdjust="spacingAndGlyphs"><tspan >Total fit</tspan></text>
<text x="202.80" y="106.30" font-size="12.80" fill="#222" ><tspan x="202.80" font-style="italic">Λ</tspan><tspan x="211.40" dy="3.20" font-style="italic" font-size="8.50">b</tspan><tspan x="211.90" dy="-7.80" font-size="8.50">0</tspan><tspan x="232.10" dy="4.60" font-style="italic">Λ</tspan><tspan font-style="italic">K</tspan><tspan dy="-3.00" font-size="10.50">+</tspan><tspan dy="3.00" font-style="italic">K</tspan><tspan dy="-3.60" font-size="10.00">−</tspan></text>
<path d="M216.30,102.90 H227.00 M224.10,100.70 L227.30,102.90 L224.10,105.10" fill="none" stroke="#222" stroke-width="0.9"/>
<text x="202.80" y="123.90" font-size="12.80" fill="#222" ><tspan x="202.80" font-style="italic">Ξ</tspan><tspan x="211.40" dy="3.20" font-style="italic" font-size="8.50">b</tspan><tspan x="211.90" dy="-7.80" font-size="8.50">0</tspan><tspan x="232.10" dy="4.60" font-style="italic">Λ</tspan><tspan font-style="italic">K</tspan><tspan dy="-3.00" font-size="10.50">+</tspan><tspan dy="3.00" font-style="italic">K</tspan><tspan dy="-3.60" font-size="10.00">−</tspan></text>
<path d="M216.30,120.50 H227.00 M224.10,118.30 L227.30,120.50 L224.10,122.70" fill="none" stroke="#222" stroke-width="0.9"/>
<text x="202.80" y="141.50" font-size="12.80" fill="#222" ><tspan x="202.80" font-style="italic">Λ</tspan><tspan x="211.40" dy="3.20" font-style="italic" font-size="8.50">b</tspan><tspan x="211.90" dy="-7.80" font-size="8.50">0</tspan><tspan x="232.10" dy="4.60" font-style="italic">Λ</tspan><tspan font-style="italic">K</tspan><tspan dy="-3.00" font-size="10.50">+</tspan><tspan dy="3.00" font-style="italic">π</tspan><tspan dy="-3.60" font-size="10.00">−</tspan><tspan dy="3.60">(mis)</tspan></text>
<path d="M216.30,138.10 H227.00 M224.10,135.90 L227.30,138.10 L224.10,140.30" fill="none" stroke="#222" stroke-width="0.9"/>
<text x="202.80" y="176.70" font-size="12.80" fill="#222" ><tspan x="202.80" font-style="italic">Λ</tspan><tspan x="211.40" dy="3.20" font-style="italic" font-size="8.50">b</tspan><tspan x="211.90" dy="-7.80" font-size="8.50">0</tspan><tspan x="232.10" dy="4.60" font-style="italic">Λ</tspan><tspan font-style="italic">K</tspan><tspan dy="-3.00" font-size="10.50">+</tspan><tspan dy="3.00" font-style="italic">K</tspan><tspan dy="-3.60" font-size="10.00">−</tspan><tspan dy="3.60" font-style="italic">γ</tspan></text>
<path d="M216.30,173.30 H227.00 M224.10,171.10 L227.30,173.30 L224.10,175.50" fill="none" stroke="#222" stroke-width="0.9"/>
<text x="202.80" y="194.30" font-size="12.80" fill="#222" ><tspan x="202.80" font-style="italic">Λ</tspan><tspan x="211.40" dy="3.20" font-style="italic" font-size="8.50">b</tspan><tspan x="211.90" dy="-7.80" font-size="8.50">0</tspan><tspan x="232.10" dy="4.60" font-style="italic">Λ</tspan><tspan font-style="italic">K</tspan><tspan dy="-3.00" font-size="10.50">+</tspan><tspan dy="3.00" font-style="italic">K</tspan><tspan dy="-3.60" font-size="10.00">−</tspan><tspan dy="3.60" font-style="italic">π</tspan><tspan dy="-4.20" font-size="9.50">0</tspan></text>
<path d="M216.30,190.90 H227.00 M224.10,188.70 L227.30,190.90 L224.10,193.10" fill="none" stroke="#222" stroke-width="0.9"/>
<text x="203.00" y="159.90" font-size="12.80" fill="#222" textLength="56.8" lengthAdjust="spacingAndGlyphs"><tspan >Comb. bkg.</tspan></text></g></g>
<g transform="translate(329.8,0)"><path d="M50.5,201.2 L52.0,201.4 L53.4,201.6 L54.9,201.8 L56.4,202.0 L57.8,202.1 L59.3,202.3 L60.8,202.5 L62.2,202.7 L63.7,202.8 L65.2,203.0 L66.6,203.2 L68.1,203.3 L69.6,203.5 L71.0,203.7 L72.5,203.8 L74.0,204.0 L75.4,204.1 L76.9,204.3 L78.4,204.4 L79.8,204.6 L81.3,204.7 L82.8,204.9 L84.2,205.0 L85.7,205.2 L87.2,205.3 L88.6,205.5 L90.1,205.6 L91.6,205.8 L93.0,205.9 L94.5,206.1 L96.0,206.2 L97.4,206.3 L98.9,206.5 L100.4,206.6 L101.8,206.7 L103.3,206.9 L104.8,207.0 L106.2,207.1 L107.7,207.3 L109.2,207.4 L110.6,207.5 L112.1,207.6 L113.6,207.8 L115.0,207.9 L116.5,208.0 L118.0,208.1 L119.4,208.2 L120.9,208.4 L122.4,208.5 L123.8,208.6 L125.3,208.7 L126.8,208.8 L128.2,208.9 L129.7,209.1 L131.2,209.2 L132.6,209.3 L134.1,209.4 L135.6,209.5 L137.0,209.6 L138.5,209.7 L140.0,209.8 L141.4,209.9 L142.9,210.0 L144.4,210.1 L145.8,210.2 L147.3,210.3 L148.8,210.4 L150.2,210.5 L151.7,210.6 L153.2,210.7 L154.6,210.8 L156.1,210.9 L157.6,211.0 L159.0,211.1 L160.5,211.2 L162.0,211.3 L163.4,211.4 L164.9,211.5 L166.4,211.6 L167.8,211.6 L169.3,211.7 L170.8,211.8 L172.2,211.9 L173.7,212.0 L175.2,212.1 L176.6,212.2 L178.1,212.2 L179.6,212.3 L181.0,212.4 L182.5,212.5 L184.0,212.6 L185.4,212.6 L186.9,212.7 L188.4,212.8 L189.8,212.9 L191.3,212.9 L192.8,213.0 L194.2,213.1 L195.7,213.2 L197.2,213.2 L198.6,213.3 L200.1,213.4 L201.6,213.5 L203.0,213.5 L204.5,213.6 L206.0,213.7 L207.4,213.7 L208.9,213.8 L210.4,213.9 L211.8,213.9 L213.3,214.0 L214.8,214.1 L216.2,214.1 L217.7,214.2 L219.2,214.3 L220.6,214.3 L222.1,214.4 L223.6,214.5 L225.0,214.5 L226.5,214.6 L228.0,214.6 L229.4,214.7 L230.9,214.8 L232.4,214.8 L233.8,214.9 L235.3,214.9 L236.8,215.0 L238.2,215.1 L239.7,215.1 L241.2,215.2 L242.6,215.2 L244.1,215.3 L245.6,215.3 L247.0,215.4 L248.5,215.4 L250.0,215.5 L251.4,215.5 L252.9,215.6 L254.4,215.6 L255.8,215.7 L257.3,215.7 L258.8,215.8 L260.2,215.8 L261.7,215.9 L263.2,215.9 L264.6,216.0 L266.1,216.0 L267.6,216.1 L269.0,216.1 L270.5,216.2 L272.0,216.2 L273.4,216.3 L274.9,216.3 L276.4,216.4 L277.8,216.4 L279.3,216.4 L280.8,216.5 L282.2,216.5 L283.7,216.6 L285.2,216.6 L286.6,216.7 L288.1,216.7 L289.6,216.7 L291.0,216.8 L292.5,216.8 L294.0,216.9 L295.4,216.9 L296.9,216.9 L298.4,217.0 L299.8,217.0 L301.3,217.1 L302.8,217.1 L304.2,217.1 L305.7,217.2 L307.2,217.2 L308.6,217.2 L310.1,217.3 L311.6,217.3 L313.0,217.4 L314.5,217.4" fill="none" stroke="#00ffff" stroke-width="1.6" stroke-dasharray="1.6,2"/>
<path d="M50.5,220.6 L51.2,220.6 L52.0,220.6 L52.7,220.6 L53.4,220.6 L54.2,220.6 L54.9,220.6 L55.6,220.7 L56.4,220.7 L57.1,220.7 L57.8,220.7 L58.6,220.7 L59.3,220.7 L60.0,220.7 L60.8,220.7 L61.5,220.7 L62.2,220.7 L63.0,220.7 L63.7,220.7 L64.4,220.7 L65.2,220.7 L65.9,220.7 L66.6,220.7 L67.4,220.7 L68.1,220.7 L68.8,220.7 L69.6,220.7 L70.3,220.8 L71.0,220.8 L71.8,220.8 L72.5,220.8 L73.2,220.8 L74.0,220.8 L74.7,220.8 L75.4,220.8 L76.2,220.8 L76.9,220.8 L77.6,220.8 L78.4,220.8 L79.1,220.8 L79.8,220.8 L80.6,220.8 L81.3,220.8 L82.0,220.8 L82.8,220.8 L83.5,220.8 L84.2,220.8 L85.0,220.8 L85.7,220.8 L86.4,220.8 L87.2,220.8 L87.9,220.8 L88.6,220.9 L89.4,220.9 L90.1,220.9 L90.8,220.9 L91.6,220.9 L92.3,220.9 L93.0,220.9 L93.8,220.9 L94.5,220.9 L95.2,220.9 L96.0,220.9 L96.7,220.9 L97.4,220.9 L98.2,220.9 L98.9,220.9 L99.6,220.9 L100.4,220.9 L101.1,220.9 L101.8,220.9 L102.6,220.9 L103.3,220.9 L104.0,220.9 L104.8,220.9 L105.5,220.9 L106.2,220.9 L107.0,220.9 L107.7,220.9 L108.4,220.9 L109.2,220.9 L109.9,220.9 L110.6,220.9 L111.4,220.9 L112.1,220.9 L112.8,220.9 L113.6,221.0 L114.3,221.0 L115.0,221.0 L115.8,221.0 L116.5,221.0 L117.2,221.0 L118.0,221.0 L118.7,221.0 L119.4,221.0 L120.2,221.0 L120.9,221.0 L121.6,221.0 L122.4,221.0 L123.1,221.0 L123.8,221.0 L124.6,221.0 L125.3,221.0 L126.0,221.0 L126.8,221.0 L127.5,221.0 L128.2,221.0 L129.0,221.0 L129.7,221.0 L130.4,221.0 L131.2,221.0 L131.9,221.0 L132.6,221.0 L133.4,221.0 L134.1,221.0 L134.8,221.0 L135.6,221.0 L136.3,221.0 L137.0,221.0 L137.8,221.0 L138.5,221.0 L139.2,221.0 L140.0,221.0 L140.7,221.0 L141.4,221.0 L142.2,221.0 L142.9,221.0 L143.6,221.0 L144.4,221.0 L145.1,221.0 L145.8,221.0 L146.6,221.0 L147.3,221.0 L148.0,221.0 L148.8,221.0 L149.5,221.0 L150.2,221.0 L151.0,221.1 L151.7,221.1 L152.4,221.1 L153.2,221.1 L153.9,221.1 L154.6,221.1 L155.4,221.1 L156.1,221.1 L156.8,221.1 L157.6,221.1 L158.3,221.1 L159.0,221.1 L159.8,221.1 L160.5,221.1 L161.2,221.1 L162.0,221.1 L162.7,221.1 L163.4,221.1 L164.2,221.1 L164.9,221.1 L165.6,221.1 L166.4,221.1 L167.1,221.1 L167.8,221.1 L168.6,221.1 L169.3,221.1 L170.0,221.1 L170.8,221.1 L171.5,221.1 L172.2,221.1 L173.0,221.1 L173.7,221.1 L174.4,221.1 L175.2,221.1 L175.9,221.1 L176.6,221.1 L177.4,221.1 L178.1,221.1 L178.8,221.1 L179.6,221.1 L180.3,221.1 L181.0,221.1 L181.8,221.1 L182.5,221.1 L183.2,221.1 L184.0,221.1 L184.7,221.1 L185.4,221.1 L186.2,221.1 L186.9,221.1 L187.6,221.1 L188.4,221.1 L189.1,221.1 L189.8,221.1 L190.6,221.1 L191.3,221.1 L192.0,221.1 L192.8,221.1 L193.5,221.1 L194.2,221.1 L195.0,221.1 L195.7,221.1 L196.4,221.1 L197.2,221.1 L197.9,221.1 L198.6,221.1 L199.4,221.1 L200.1,221.1 L200.8,221.1 L201.6,221.1 L202.3,221.1 L203.0,221.1 L203.8,221.1 L204.5,221.1 L205.2,221.1 L206.0,221.1 L206.7,221.1 L207.4,221.1 L208.2,221.1 L208.9,221.1 L209.6,221.1 L210.4,221.1 L211.1,221.1 L211.8,221.1 L212.6,221.1 L213.3,221.1 L214.0,221.1 L214.8,221.1 L215.5,221.1 L216.2,221.1 L217.0,221.1 L217.7,221.1 L218.4,221.1 L219.2,221.1 L219.9,221.1 L220.6,221.1 L221.4,221.1 L222.1,221.1 L222.8,221.1 L223.6,221.1 L224.3,221.1 L225.0,221.1 L225.8,221.1 L226.5,221.1 L227.2,221.1 L228.0,221.1 L228.7,221.1 L229.4,221.1 L230.2,221.1 L230.9,221.1 L231.6,221.2 L232.4,221.2 L233.1,221.2 L233.8,221.2 L234.6,221.2 L235.3,221.2 L236.0,221.2 L236.8,221.2 L237.5,221.2 L238.2,221.2 L239.0,221.2 L239.7,221.2 L240.4,221.2 L241.2,221.2 L241.9,221.2 L242.6,221.2 L243.4,221.2 L244.1,221.2 L244.8,221.2 L245.6,221.2 L246.3,221.2 L247.0,221.2 L247.8,221.2 L248.5,221.2 L249.2,221.2 L250.0,221.2 L250.7,221.2 L251.4,221.2 L252.2,221.2 L252.9,221.2 L253.6,221.2 L254.4,221.2 L255.1,221.2 L255.8,221.2 L256.6,221.2 L257.3,221.2 L258.0,221.2 L258.8,221.2 L259.5,221.2 L260.2,221.2 L261.0,221.2 L261.7,221.2 L262.4,221.2 L263.2,221.2 L263.9,221.2 L264.6,221.2 L265.4,221.2 L266.1,221.2 L266.8,221.2 L267.6,221.2 L268.3,221.2 L269.0,221.2 L269.8,221.2 L270.5,221.2 L271.2,221.2 L272.0,221.2 L272.7,221.2 L273.4,221.2 L274.2,221.2 L274.9,221.2 L275.6,221.2 L276.4,221.2 L277.1,221.2 L277.8,221.2 L278.6,221.2 L279.3,221.2 L280.0,221.2 L280.8,221.2 L281.5,221.2 L282.2,221.2 L283.0,221.2 L283.7,221.2 L284.4,221.2 L285.2,221.2 L285.9,221.2 L286.6,221.2 L287.4,221.2 L288.1,221.2 L288.8,221.2 L289.6,221.2 L290.3,221.2 L291.0,221.2 L291.8,221.2 L292.5,221.2 L293.2,221.2 L294.0,221.2 L294.7,221.2 L295.4,221.2 L296.2,221.2 L296.9,221.2 L297.6,221.2 L298.4,221.2 L299.1,221.2 L299.8,221.2 L300.6,221.2 L301.3,221.2 L302.0,221.2 L302.8,221.2 L303.5,221.2 L304.2,221.2 L305.0,221.2 L305.7,221.2 L306.4,221.2 L307.2,221.2 L307.9,221.2 L308.6,221.2 L309.4,221.2 L310.1,221.2 L310.8,221.2 L311.6,221.2 L312.3,221.2 L313.0,221.2 L313.8,221.2 L314.5,221.2" fill="none" stroke="#0000ff" stroke-width="1.6" stroke-dasharray="1.8,1.6"/>
<path d="M50.5,220.9 H314.5" fill="none" stroke="#0000ff" stroke-width="1" stroke-dasharray="1.5,2.2" opacity="0.8"/>
<path d="M50.5,219.9 L54.2,220.0 L57.8,220.0 L61.5,220.1 L65.2,220.1 L68.8,220.1 L72.5,220.2 L76.2,220.2 L79.8,220.3 L83.5,220.3 L87.2,220.3 L90.8,220.4 L94.5,220.4 L98.2,220.4 L101.8,220.4 L105.5,220.5 L109.2,220.5 L112.8,220.5 L116.5,220.5 L120.2,220.6 L123.8,220.6 L127.5,220.6 L131.2,220.6 L134.8,220.6 L138.5,220.6 L142.2,220.7 L145.8,220.7 L149.5,220.7 L153.2,220.7 L156.8,220.7 L160.5,220.7 L164.2,220.7 L167.8,220.8 L171.5,220.8 L175.2,220.8 L178.8,220.8 L182.5,220.8 L186.2,220.8 L189.8,220.8 L193.5,220.8 L197.2,220.8 L200.8,220.8 L204.5,220.8 L208.2,220.8 L211.8,220.8 L215.5,220.9 L219.2,220.9 L222.8,220.9 L226.5,220.9 L230.2,220.9 L233.8,220.9 L237.5,220.9 L241.2,220.9 L244.8,220.9 L248.5,220.9 L252.2,220.9 L255.8,220.9 L259.5,220.9 L263.2,220.9 L266.8,220.9 L270.5,220.9 L274.2,220.9 L277.8,220.9 L281.5,220.9 L285.2,220.9 L288.8,220.9 L292.5,220.9 L296.2,220.9 L299.8,220.9 L303.5,220.9 L307.2,220.9 L310.8,220.9 L314.5,220.9" fill="none" stroke="#ff00ff" stroke-width="1.5" stroke-dasharray="2,2" opacity="0.8"/>
<path d="M50.5,221.5 L50.9,221.5 L51.2,221.5 L51.6,221.5 L52.0,221.5 L52.3,221.5 L52.7,221.5 L53.1,221.5 L53.4,221.5 L53.8,221.5 L54.2,221.5 L54.5,221.5 L54.9,221.5 L55.3,221.5 L55.6,221.5 L56.0,221.5 L56.4,221.5 L56.7,221.5 L57.1,221.5 L57.5,221.5 L57.8,221.5 L58.2,221.5 L58.6,221.5 L58.9,221.5 L59.3,221.5 L59.7,221.5 L60.0,221.5 L60.4,221.5 L60.8,221.5 L61.1,221.5 L61.5,221.5 L61.9,221.5 L62.2,221.5 L62.6,221.5 L63.0,221.5 L63.3,221.5 L63.7,221.5 L64.1,221.5 L64.4,221.5 L64.8,221.5 L65.2,221.5 L65.5,221.5 L65.9,221.5 L66.3,221.5 L66.6,221.5 L67.0,221.5 L67.4,221.5 L67.7,221.5 L68.1,221.5 L68.5,221.5 L68.8,221.5 L69.2,221.5 L69.6,221.5 L69.9,221.5 L70.3,221.5 L70.7,221.5 L71.0,221.5 L71.4,221.5 L71.8,221.5 L72.1,221.5 L72.5,221.5 L72.9,221.5 L73.2,221.5 L73.6,221.5 L74.0,221.5 L74.3,221.5 L74.7,221.5 L75.1,221.5 L75.4,221.5 L75.8,221.5 L76.2,221.5 L76.5,221.5 L76.9,221.5 L77.3,221.5 L77.6,221.5 L78.0,221.5 L78.4,221.5 L78.7,221.5 L79.1,221.4 L79.5,221.4 L79.8,221.4 L80.2,221.4 L80.6,221.4 L80.9,221.4 L81.3,221.4 L81.7,221.4 L82.0,221.4 L82.4,221.4 L82.8,221.4 L83.1,221.4 L83.5,221.4 L83.9,221.4 L84.2,221.4 L84.6,221.4 L85.0,221.4 L85.3,221.4 L85.7,221.4 L86.1,221.4 L86.4,221.4 L86.8,221.4 L87.2,221.4 L87.5,221.4 L87.9,221.4 L88.3,221.4 L88.6,221.4 L89.0,221.4 L89.4,221.4 L89.7,221.4 L90.1,221.4 L90.5,221.4 L90.8,221.3 L91.2,221.3 L91.6,221.3 L91.9,221.3 L92.3,221.3 L92.7,221.3 L93.0,221.3 L93.4,221.3 L93.8,221.3 L94.1,221.3 L94.5,221.3 L94.9,221.3 L95.2,221.2 L95.6,221.2 L96.0,221.2 L96.3,221.2 L96.7,221.2 L97.1,221.2 L97.4,221.2 L97.8,221.1 L98.2,221.1 L98.5,221.1 L98.9,221.1 L99.3,221.1 L99.6,221.0 L100.0,221.0 L100.4,221.0 L100.7,221.0 L101.1,220.9 L101.5,220.9 L101.8,220.9 L102.2,220.8 L102.6,220.8 L102.9,220.7 L103.3,220.7 L103.7,220.6 L104.0,220.6 L104.4,220.5 L104.8,220.5 L105.1,220.4 L105.5,220.3 L105.9,220.3 L106.2,220.2 L106.6,220.1 L107.0,220.0 L107.3,219.9 L107.7,219.8 L108.1,219.7 L108.4,219.5 L108.8,219.4 L109.2,219.2 L109.5,219.0 L109.9,218.9 L110.3,218.6 L110.6,218.4 L111.0,218.2 L111.4,217.9 L111.7,217.6 L112.1,217.3 L112.5,216.9 L112.8,216.5 L113.2,216.0 L113.6,215.6 L113.9,215.0 L114.3,214.4 L114.7,213.7 L115.0,212.9 L115.4,212.1 L115.8,211.1 L116.1,210.0 L116.5,208.8 L116.9,207.4 L117.2,205.8 L117.6,204.1 L118.0,202.1 L118.3,200.0 L118.7,197.8 L119.1,195.4 L119.4,192.8 L119.8,190.1 L120.2,187.2 L120.5,184.2 L120.9,181.0 L121.3,177.7 L121.6,174.3 L122.0,170.7 L122.4,167.0 L122.7,163.2 L123.1,159.3 L123.5,155.4 L123.8,151.4 L124.2,147.4 L124.6,143.4 L124.9,139.5 L125.3,135.5 L125.7,131.7 L126.0,127.9 L126.4,124.3 L126.8,120.8 L127.1,117.6 L127.5,114.5 L127.9,111.6 L128.2,109.0 L128.6,106.7 L129.0,104.7 L129.3,102.9 L129.7,101.6 L130.1,100.5 L130.4,99.8 L130.8,99.4 L131.2,99.4 L131.5,99.8 L131.9,100.5 L132.3,101.6 L132.6,102.9 L133.0,104.7 L133.4,106.7 L133.7,109.0 L134.1,111.6 L134.5,114.5 L134.8,117.6 L135.2,120.8 L135.6,124.3 L135.9,127.9 L136.3,131.7 L136.7,135.5 L137.0,139.5 L137.4,143.4 L137.8,147.4 L138.1,151.4 L138.5,155.4 L138.9,159.3 L139.2,163.2 L139.6,167.0 L140.0,170.7 L140.3,174.3 L140.7,177.7 L141.1,181.0 L141.4,184.2 L141.8,187.2 L142.2,190.1 L142.5,192.8 L142.9,195.4 L143.3,197.8 L143.6,200.0 L144.0,202.1 L144.4,204.1 L144.7,205.8 L145.1,207.5 L145.5,209.0 L145.8,210.4 L146.2,211.6 L146.6,212.8 L146.9,213.8 L147.3,214.7 L147.7,215.6 L148.0,216.3 L148.4,216.9 L148.8,217.5 L149.1,218.0 L149.5,218.4 L149.9,218.7 L150.2,219.0 L150.6,219.3 L151.0,219.5 L151.3,219.7 L151.7,219.9 L152.1,220.1 L152.4,220.2 L152.8,220.3 L153.2,220.4 L153.5,220.5 L153.9,220.6 L154.3,220.7 L154.6,220.8 L155.0,220.8 L155.4,220.9 L155.7,220.9 L156.1,221.0 L156.5,221.0 L156.8,221.1 L157.2,221.1 L157.6,221.1 L157.9,221.2 L158.3,221.2 L158.7,221.2 L159.0,221.2 L159.4,221.2 L159.8,221.3 L160.1,221.3 L160.5,221.3 L160.9,221.3 L161.2,221.3 L161.6,221.3 L162.0,221.3 L162.3,221.3 L162.7,221.4 L163.1,221.4 L163.4,221.4 L163.8,221.4 L164.2,221.4 L164.5,221.4 L164.9,221.4 L165.3,221.4 L165.6,221.4 L166.0,221.4 L166.4,221.4 L166.7,221.4 L167.1,221.4 L167.5,221.4 L167.8,221.4 L168.2,221.4 L168.6,221.4 L168.9,221.4 L169.3,221.4 L169.7,221.4 L170.0,221.5 L170.4,221.5 L170.8,221.5 L171.1,221.5 L171.5,221.5 L171.9,221.5 L172.2,221.5 L172.6,221.5 L173.0,221.5 L173.3,221.5 L173.7,221.5 L174.1,221.5 L174.4,221.5 L174.8,221.5 L175.2,221.5 L175.5,221.5 L175.9,221.5 L176.3,221.5 L176.6,221.5 L177.0,221.5 L177.4,221.5 L177.7,221.5 L178.1,221.5 L178.5,221.5 L178.8,221.5 L179.2,221.5 L179.6,221.5 L179.9,221.5 L180.3,221.5 L180.7,221.5 L181.0,221.5 L181.4,221.5 L181.8,221.5 L182.1,221.5 L182.5,221.5 L182.9,221.5 L183.2,221.5 L183.6,221.5 L184.0,221.5 L184.3,221.5 L184.7,221.5 L185.1,221.5 L185.4,221.5 L185.8,221.5 L186.2,221.5 L186.5,221.5 L186.9,221.5 L187.3,221.5 L187.6,221.5 L188.0,221.5 L188.4,221.5 L188.7,221.5 L189.1,221.5 L189.5,221.5 L189.8,221.5 L190.2,221.5 L190.6,221.5 L190.9,221.5 L191.3,221.5 L191.7,221.5 L192.0,221.5 L192.4,221.5 L192.8,221.5 L193.1,221.5 L193.5,221.5 L193.9,221.5 L194.2,221.5 L194.6,221.5 L195.0,221.5 L195.3,221.5 L195.7,221.5 L196.1,221.5 L196.4,221.5 L196.8,221.5 L197.2,221.5 L197.5,221.5 L197.9,221.5 L198.3,221.5 L198.6,221.5 L199.0,221.5 L199.4,221.5 L199.7,221.5 L200.1,221.5 L200.5,221.5 L200.8,221.5 L201.2,221.5 L201.6,221.5 L201.9,221.5 L202.3,221.5 L202.7,221.5 L203.0,221.5 L203.4,221.5 L203.8,221.5 L204.1,221.5 L204.5,221.5 L204.9,221.5 L205.2,221.5 L205.6,221.5 L206.0,221.5 L206.3,221.5 L206.7,221.5 L207.1,221.5 L207.4,221.5 L207.8,221.5 L208.2,221.5 L208.5,221.5 L208.9,221.5 L209.3,221.5 L209.6,221.5 L210.0,221.5 L210.4,221.5 L210.7,221.5 L211.1,221.5 L211.5,221.5 L211.8,221.5 L212.2,221.5 L212.6,221.5 L212.9,221.5 L213.3,221.5 L213.7,221.5 L214.0,221.5 L214.4,221.5 L214.8,221.5 L215.1,221.5 L215.5,221.5 L215.9,221.5 L216.2,221.5 L216.6,221.5 L217.0,221.5 L217.3,221.5 L217.7,221.5 L218.1,221.5 L218.4,221.5 L218.8,221.5 L219.2,221.5 L219.5,221.5 L219.9,221.5 L220.3,221.5 L220.6,221.5 L221.0,221.5 L221.4,221.5 L221.7,221.5 L222.1,221.5 L222.5,221.5 L222.8,221.5 L223.2,221.5 L223.6,221.5 L223.9,221.5 L224.3,221.5 L224.7,221.5 L225.0,221.5 L225.4,221.5 L225.8,221.5 L226.1,221.5 L226.5,221.5 L226.9,221.5 L227.2,221.5 L227.6,221.5 L228.0,221.5 L228.3,221.5 L228.7,221.5 L229.1,221.5 L229.4,221.5 L229.8,221.5 L230.2,221.5 L230.5,221.5 L230.9,221.5 L231.3,221.5 L231.6,221.5 L232.0,221.5 L232.4,221.5 L232.7,221.5 L233.1,221.5 L233.5,221.5 L233.8,221.5 L234.2,221.5 L234.6,221.5 L234.9,221.5 L235.3,221.5 L235.7,221.5 L236.0,221.5 L236.4,221.5 L236.8,221.5 L237.1,221.5 L237.5,221.5 L237.9,221.5 L238.2,221.5 L238.6,221.5 L239.0,221.5 L239.3,221.5 L239.7,221.5 L240.1,221.5 L240.4,221.5 L240.8,221.5 L241.2,221.5 L241.5,221.5 L241.9,221.5 L242.3,221.5 L242.6,221.5 L243.0,221.5 L243.4,221.5 L243.7,221.5 L244.1,221.5 L244.5,221.5 L244.8,221.5 L245.2,221.5 L245.6,221.5 L245.9,221.5 L246.3,221.5 L246.7,221.5 L247.0,221.5 L247.4,221.5 L247.8,221.5 L248.1,221.5 L248.5,221.5 L248.9,221.5 L249.2,221.5 L249.6,221.5 L250.0,221.5 L250.3,221.5 L250.7,221.5 L251.1,221.5 L251.4,221.5 L251.8,221.5 L252.2,221.5 L252.5,221.5 L252.9,221.5 L253.3,221.5 L253.6,221.5 L254.0,221.5 L254.4,221.5 L254.7,221.5 L255.1,221.5 L255.5,221.5 L255.8,221.5 L256.2,221.5 L256.6,221.5 L256.9,221.5 L257.3,221.5 L257.7,221.5 L258.0,221.5 L258.4,221.5 L258.8,221.5 L259.1,221.5 L259.5,221.5 L259.9,221.5 L260.2,221.5 L260.6,221.5 L261.0,221.5 L261.3,221.5 L261.7,221.5 L262.1,221.5 L262.4,221.5 L262.8,221.5 L263.2,221.5 L263.5,221.5 L263.9,221.5 L264.3,221.5 L264.6,221.5 L265.0,221.5 L265.4,221.5 L265.7,221.5 L266.1,221.5 L266.5,221.5 L266.8,221.5 L267.2,221.5 L267.6,221.5 L267.9,221.5 L268.3,221.5 L268.7,221.5 L269.0,221.5 L269.4,221.5 L269.8,221.5 L270.1,221.5 L270.5,221.5 L270.9,221.5 L271.2,221.5 L271.6,221.5 L272.0,221.5 L272.3,221.5 L272.7,221.5 L273.1,221.5 L273.4,221.5 L273.8,221.5 L274.2,221.5 L274.5,221.5 L274.9,221.5 L275.3,221.5 L275.6,221.5 L276.0,221.5 L276.4,221.5 L276.7,221.5 L277.1,221.5 L277.5,221.5 L277.8,221.5 L278.2,221.5 L278.6,221.5 L278.9,221.5 L279.3,221.5 L279.7,221.5 L280.0,221.5 L280.4,221.5 L280.8,221.5 L281.1,221.5 L281.5,221.5 L281.9,221.5 L282.2,221.5 L282.6,221.5 L283.0,221.5 L283.3,221.5 L283.7,221.5 L284.1,221.5 L284.4,221.5 L284.8,221.5 L285.2,221.5 L285.5,221.5 L285.9,221.5 L286.3,221.5 L286.6,221.5 L287.0,221.5 L287.4,221.5 L287.7,221.5 L288.1,221.5 L288.5,221.5 L288.8,221.5 L289.2,221.5 L289.6,221.5 L289.9,221.5 L290.3,221.5 L290.7,221.5 L291.0,221.5 L291.4,221.5 L291.8,221.5 L292.1,221.5 L292.5,221.5 L292.9,221.5 L293.2,221.5 L293.6,221.5 L294.0,221.5 L294.3,221.5 L294.7,221.5 L295.1,221.5 L295.4,221.5 L295.8,221.5 L296.2,221.5 L296.5,221.5 L296.9,221.5 L297.3,221.5 L297.6,221.5 L298.0,221.5 L298.4,221.5 L298.7,221.5 L299.1,221.5 L299.5,221.5 L299.8,221.5 L300.2,221.5 L300.6,221.5 L300.9,221.5 L301.3,221.5 L301.7,221.5 L302.0,221.5 L302.4,221.5 L302.8,221.5 L303.1,221.5 L303.5,221.5 L303.9,221.5 L304.2,221.5 L304.6,221.5 L305.0,221.5 L305.3,221.5 L305.7,221.5 L306.1,221.5 L306.4,221.5 L306.8,221.5 L307.2,221.5 L307.5,221.5 L307.9,221.5 L308.3,221.5 L308.6,221.5 L309.0,221.5 L309.4,221.5 L309.7,221.5 L310.1,221.5 L310.5,221.5 L310.8,221.5 L311.2,221.5 L311.6,221.5 L311.9,221.5 L312.3,221.5 L312.7,221.5 L313.0,221.5 L313.4,221.5 L313.8,221.5 L314.1,221.5 L314.5,221.5" fill="none" stroke="#ff0000" stroke-width="1.5"/>
<path d="M50.5,200.6 L50.9,200.6 L51.2,200.7 L51.6,200.7 L52.0,200.8 L52.3,200.8 L52.7,200.9 L53.1,200.9 L53.4,200.9 L53.8,201.0 L54.2,201.0 L54.5,201.1 L54.9,201.1 L55.3,201.2 L55.6,201.2 L56.0,201.3 L56.4,201.3 L56.7,201.3 L57.1,201.4 L57.5,201.4 L57.8,201.5 L58.2,201.5 L58.6,201.5 L58.9,201.6 L59.3,201.6 L59.7,201.7 L60.0,201.7 L60.4,201.7 L60.8,201.8 L61.1,201.8 L61.5,201.9 L61.9,201.9 L62.2,201.9 L62.6,202.0 L63.0,202.0 L63.3,202.0 L63.7,202.1 L64.1,202.1 L64.4,202.1 L64.8,202.2 L65.2,202.2 L65.5,202.2 L65.9,202.3 L66.3,202.3 L66.6,202.3 L67.0,202.4 L67.4,202.4 L67.7,202.4 L68.1,202.4 L68.5,202.5 L68.8,202.5 L69.2,202.5 L69.6,202.5 L69.9,202.6 L70.3,202.6 L70.7,202.6 L71.0,202.6 L71.4,202.7 L71.8,202.7 L72.1,202.7 L72.5,202.7 L72.9,202.7 L73.2,202.8 L73.6,202.8 L74.0,202.8 L74.3,202.8 L74.7,202.8 L75.1,202.8 L75.4,202.9 L75.8,202.9 L76.2,202.9 L76.5,202.9 L76.9,202.9 L77.3,202.9 L77.6,202.9 L78.0,202.9 L78.4,202.9 L78.7,203.0 L79.1,203.0 L79.5,203.0 L79.8,203.0 L80.2,203.0 L80.6,203.0 L80.9,203.0 L81.3,203.0 L81.7,203.0 L82.0,203.0 L82.4,203.0 L82.8,203.0 L83.1,203.0 L83.5,203.0 L83.9,203.0 L84.2,203.0 L84.6,203.0 L85.0,203.0 L85.3,203.0 L85.7,203.0 L86.1,203.0 L86.4,203.0 L86.8,203.0 L87.2,203.0 L87.5,203.0 L87.9,203.0 L88.3,203.0 L88.6,203.0 L89.0,202.9 L89.4,202.9 L89.7,202.9 L90.1,202.9 L90.5,202.9 L90.8,202.9 L91.2,202.9 L91.6,202.9 L91.9,202.9 L92.3,202.9 L92.7,202.8 L93.0,202.8 L93.4,202.8 L93.8,202.8 L94.1,202.8 L94.5,202.8 L94.9,202.8 L95.2,202.8 L95.6,202.7 L96.0,202.7 L96.3,202.7 L96.7,202.7 L97.1,202.7 L97.4,202.7 L97.8,202.6 L98.2,202.6 L98.5,202.6 L98.9,202.6 L99.3,202.6 L99.6,202.5 L100.0,202.5 L100.4,202.5 L100.7,202.5 L101.1,202.4 L101.5,202.4 L101.8,202.4 L102.2,202.3 L102.6,202.3 L102.9,202.3 L103.3,202.2 L103.7,202.2 L104.0,202.2 L104.4,202.1 L104.8,202.1 L105.1,202.0 L105.5,201.9 L105.9,201.9 L106.2,201.8 L106.6,201.7 L107.0,201.7 L107.3,201.6 L107.7,201.5 L108.1,201.4 L108.4,201.3 L108.8,201.1 L109.2,201.0 L109.5,200.8 L109.9,200.7 L110.3,200.5 L110.6,200.3 L111.0,200.1 L111.4,199.8 L111.7,199.6 L112.1,199.3 L112.5,198.9 L112.8,198.6 L113.2,198.2 L113.6,197.7 L113.9,197.2 L114.3,196.7 L114.7,196.1 L115.0,195.4 L115.4,194.6 L115.8,193.8 L116.1,192.8 L116.5,191.7 L116.9,190.4 L117.2,189.0 L117.6,187.4 L118.0,185.6 L118.3,183.6 L118.7,181.5 L119.1,179.3 L119.4,176.9 L119.8,174.3 L120.2,171.6 L120.5,168.8 L120.9,165.7 L121.3,162.6 L121.6,159.3 L122.0,155.9 L122.4,152.3 L122.7,148.7 L123.1,145.0 L123.5,141.2 L123.8,137.3 L124.2,133.5 L124.6,129.6 L124.9,125.7 L125.3,121.9 L125.7,118.2 L126.0,114.5 L126.4,111.0 L126.8,107.7 L127.1,104.5 L127.5,101.5 L127.9,98.7 L128.2,96.2 L128.6,93.9 L129.0,92.0 L129.3,90.3 L129.7,89.0 L130.1,88.0 L130.4,87.4 L130.8,87.1 L131.2,87.1 L131.5,87.5 L131.9,88.3 L132.3,89.4 L132.6,90.8 L133.0,92.6 L133.4,94.7 L133.7,97.0 L134.1,99.7 L134.5,102.5 L134.8,105.7 L135.2,109.0 L135.6,112.5 L135.9,116.1 L136.3,119.9 L136.7,123.8 L137.0,127.8 L137.4,131.8 L137.8,135.8 L138.1,139.8 L138.5,143.8 L138.9,147.8 L139.2,151.7 L139.6,155.5 L140.0,159.2 L140.3,162.9 L140.7,166.3 L141.1,169.7 L141.4,172.9 L141.8,175.9 L142.2,178.8 L142.5,181.6 L142.9,184.2 L143.3,186.6 L143.6,188.9 L144.0,191.0 L144.4,192.9 L144.7,194.8 L145.1,196.4 L145.5,198.0 L145.8,199.4 L146.2,200.7 L146.6,201.8 L146.9,202.9 L147.3,203.8 L147.7,204.7 L148.0,205.5 L148.4,206.1 L148.8,206.7 L149.1,207.2 L149.5,207.6 L149.9,208.0 L150.2,208.3 L150.6,208.6 L151.0,208.9 L151.3,209.1 L151.7,209.3 L152.1,209.5 L152.4,209.7 L152.8,209.8 L153.2,210.0 L153.5,210.1 L153.9,210.2 L154.3,210.3 L154.6,210.4 L155.0,210.5 L155.4,210.6 L155.7,210.6 L156.1,210.7 L156.5,210.8 L156.8,210.8 L157.2,210.9 L157.6,210.9 L157.9,211.0 L158.3,211.1 L158.7,211.1 L159.0,211.1 L159.4,211.2 L159.8,211.2 L160.1,211.3 L160.5,211.3 L160.9,211.3 L161.2,211.4 L161.6,211.4 L162.0,211.5 L162.3,211.5 L162.7,211.5 L163.1,211.6 L163.4,211.6 L163.8,211.6 L164.2,211.6 L164.5,211.7 L164.9,211.7 L165.3,211.7 L165.6,211.8 L166.0,211.8 L166.4,211.8 L166.7,211.8 L167.1,211.9 L167.5,211.9 L167.8,211.9 L168.2,212.0 L168.6,212.0 L168.9,212.0 L169.3,212.0 L169.7,212.1 L170.0,212.1 L170.4,212.1 L170.8,212.1 L171.1,212.2 L171.5,212.2 L171.9,212.2 L172.2,212.2 L172.6,212.3 L173.0,212.3 L173.3,212.3 L173.7,212.3 L174.1,212.3 L174.4,212.4 L174.8,212.4 L175.2,212.4 L175.5,212.4 L175.9,212.5 L176.3,212.5 L176.6,212.5 L177.0,212.5 L177.4,212.6 L177.7,212.6 L178.1,212.6 L178.5,212.6 L178.8,212.6 L179.2,212.7 L179.6,212.7 L179.9,212.7 L180.3,212.7 L180.7,212.8 L181.0,212.8 L181.4,212.8 L181.8,212.8 L182.1,212.8 L182.5,212.9 L182.9,212.9 L183.2,212.9 L183.6,212.9 L184.0,212.9 L184.3,213.0 L184.7,213.0 L185.1,213.0 L185.4,213.0 L185.8,213.1 L186.2,213.1 L186.5,213.1 L186.9,213.1 L187.3,213.1 L187.6,213.2 L188.0,213.2 L188.4,213.2 L188.7,213.2 L189.1,213.2 L189.5,213.3 L189.8,213.3 L190.2,213.3 L190.6,213.3 L190.9,213.3 L191.3,213.4 L191.7,213.4 L192.0,213.4 L192.4,213.4 L192.8,213.4 L193.1,213.5 L193.5,213.5 L193.9,213.5 L194.2,213.5 L194.6,213.5 L195.0,213.6 L195.3,213.6 L195.7,213.6 L196.1,213.6 L196.4,213.6 L196.8,213.7 L197.2,213.7 L197.5,213.7 L197.9,213.7 L198.3,213.7 L198.6,213.7 L199.0,213.8 L199.4,213.8 L199.7,213.8 L200.1,213.8 L200.5,213.8 L200.8,213.9 L201.2,213.9 L201.6,213.9 L201.9,213.9 L202.3,213.9 L202.7,214.0 L203.0,214.0 L203.4,214.0 L203.8,214.0 L204.1,214.0 L204.5,214.0 L204.9,214.1 L205.2,214.1 L205.6,214.1 L206.0,214.1 L206.3,214.1 L206.7,214.2 L207.1,214.2 L207.4,214.2 L207.8,214.2 L208.2,214.2 L208.5,214.2 L208.9,214.3 L209.3,214.3 L209.6,214.3 L210.0,214.3 L210.4,214.3 L210.7,214.3 L211.1,214.4 L211.5,214.4 L211.8,214.4 L212.2,214.4 L212.6,214.4 L212.9,214.5 L213.3,214.5 L213.7,214.5 L214.0,214.5 L214.4,214.5 L214.8,214.5 L215.1,214.6 L215.5,214.6 L215.9,214.6 L216.2,214.6 L216.6,214.6 L217.0,214.6 L217.3,214.7 L217.7,214.7 L218.1,214.7 L218.4,214.7 L218.8,214.7 L219.2,214.7 L219.5,214.8 L219.9,214.8 L220.3,214.8 L220.6,214.8 L221.0,214.8 L221.4,214.8 L221.7,214.9 L222.1,214.9 L222.5,214.9 L222.8,214.9 L223.2,214.9 L223.6,214.9 L223.9,215.0 L224.3,215.0 L224.7,215.0 L225.0,215.0 L225.4,215.0 L225.8,215.0 L226.1,215.0 L226.5,215.1 L226.9,215.1 L227.2,215.1 L227.6,215.1 L228.0,215.1 L228.3,215.1 L228.7,215.2 L229.1,215.2 L229.4,215.2 L229.8,215.2 L230.2,215.2 L230.5,215.2 L230.9,215.2 L231.3,215.3 L231.6,215.3 L232.0,215.3 L232.4,215.3 L232.7,215.3 L233.1,215.3 L233.5,215.4 L233.8,215.4 L234.2,215.4 L234.6,215.4 L234.9,215.4 L235.3,215.4 L235.7,215.4 L236.0,215.5 L236.4,215.5 L236.8,215.5 L237.1,215.5 L237.5,215.5 L237.9,215.5 L238.2,215.5 L238.6,215.6 L239.0,215.6 L239.3,215.6 L239.7,215.6 L240.1,215.6 L240.4,215.6 L240.8,215.6 L241.2,215.7 L241.5,215.7 L241.9,215.7 L242.3,215.7 L242.6,215.7 L243.0,215.7 L243.4,215.7 L243.7,215.8 L244.1,215.8 L244.5,215.8 L244.8,215.8 L245.2,215.8 L245.6,215.8 L245.9,215.8 L246.3,215.9 L246.7,215.9 L247.0,215.9 L247.4,215.9 L247.8,215.9 L248.1,215.9 L248.5,215.9 L248.9,216.0 L249.2,216.0 L249.6,216.0 L250.0,216.0 L250.3,216.0 L250.7,216.0 L251.1,216.0 L251.4,216.1 L251.8,216.1 L252.2,216.1 L252.5,216.1 L252.9,216.1 L253.3,216.1 L253.6,216.1 L254.0,216.1 L254.4,216.2 L254.7,216.2 L255.1,216.2 L255.5,216.2 L255.8,216.2 L256.2,216.2 L256.6,216.2 L256.9,216.2 L257.3,216.3 L257.7,216.3 L258.0,216.3 L258.4,216.3 L258.8,216.3 L259.1,216.3 L259.5,216.3 L259.9,216.4 L260.2,216.4 L260.6,216.4 L261.0,216.4 L261.3,216.4 L261.7,216.4 L262.1,216.4 L262.4,216.4 L262.8,216.5 L263.2,216.5 L263.5,216.5 L263.9,216.5 L264.3,216.5 L264.6,216.5 L265.0,216.5 L265.4,216.5 L265.7,216.6 L266.1,216.6 L266.5,216.6 L266.8,216.6 L267.2,216.6 L267.6,216.6 L267.9,216.6 L268.3,216.6 L268.7,216.6 L269.0,216.7 L269.4,216.7 L269.8,216.7 L270.1,216.7 L270.5,216.7 L270.9,216.7 L271.2,216.7 L271.6,216.7 L272.0,216.8 L272.3,216.8 L272.7,216.8 L273.1,216.8 L273.4,216.8 L273.8,216.8 L274.2,216.8 L274.5,216.8 L274.9,216.8 L275.3,216.9 L275.6,216.9 L276.0,216.9 L276.4,216.9 L276.7,216.9 L277.1,216.9 L277.5,216.9 L277.8,216.9 L278.2,216.9 L278.6,217.0 L278.9,217.0 L279.3,217.0 L279.7,217.0 L280.0,217.0 L280.4,217.0 L280.8,217.0 L281.1,217.0 L281.5,217.1 L281.9,217.1 L282.2,217.1 L282.6,217.1 L283.0,217.1 L283.3,217.1 L283.7,217.1 L284.1,217.1 L284.4,217.1 L284.8,217.1 L285.2,217.2 L285.5,217.2 L285.9,217.2 L286.3,217.2 L286.6,217.2 L287.0,217.2 L287.4,217.2 L287.7,217.2 L288.1,217.2 L288.5,217.3 L288.8,217.3 L289.2,217.3 L289.6,217.3 L289.9,217.3 L290.3,217.3 L290.7,217.3 L291.0,217.3 L291.4,217.3 L291.8,217.3 L292.1,217.4 L292.5,217.4 L292.9,217.4 L293.2,217.4 L293.6,217.4 L294.0,217.4 L294.3,217.4 L294.7,217.4 L295.1,217.4 L295.4,217.5 L295.8,217.5 L296.2,217.5 L296.5,217.5 L296.9,217.5 L297.3,217.5 L297.6,217.5 L298.0,217.5 L298.4,217.5 L298.7,217.5 L299.1,217.6 L299.5,217.6 L299.8,217.6 L300.2,217.6 L300.6,217.6 L300.9,217.6 L301.3,217.6 L301.7,217.6 L302.0,217.6 L302.4,217.6 L302.8,217.6 L303.1,217.7 L303.5,217.7 L303.9,217.7 L304.2,217.7 L304.6,217.7 L305.0,217.7 L305.3,217.7 L305.7,217.7 L306.1,217.7 L306.4,217.7 L306.8,217.8 L307.2,217.8 L307.5,217.8 L307.9,217.8 L308.3,217.8 L308.6,217.8 L309.0,217.8 L309.4,217.8 L309.7,217.8 L310.1,217.8 L310.5,217.8 L310.8,217.9 L311.2,217.9 L311.6,217.9 L311.9,217.9 L312.3,217.9 L312.7,217.9 L313.0,217.9 L313.4,217.9 L313.8,217.9 L314.1,217.9 L314.5,217.9" fill="none" stroke="#0000ff" stroke-width="1.5"/>
<path d="M50.50,200.65 H57.83 M54.17,195.74 V205.56 M57.83,200.89 H65.17 M61.50,196.00 V205.77 M65.17,208.05 H72.50 M68.83,204.12 V211.98 M72.50,202.06 H79.83 M76.17,197.32 V206.80 M79.83,189.50 H87.17 M83.50,183.40 V195.60 M87.17,204.76 H94.50 M90.83,200.37 V209.16 M94.50,205.58 H101.83 M98.17,201.30 V209.87 M101.83,198.19 H109.17 M105.50,192.99 V203.39 M109.17,197.72 H116.50 M112.83,192.47 V202.97 M116.50,180.58 H123.83 M120.17,173.67 V187.48 M123.83,102.61 H131.17 M127.50,90.81 V114.41 M131.17,129.62 H138.50 M134.83,119.25 V139.99 M138.50,182.81 H145.83 M142.17,176.09 V189.52 M145.83,194.43 H153.17 M149.50,188.82 V200.04 M153.17,209.11 H160.50 M156.83,205.34 V212.87 M160.50,210.63 H167.83 M164.17,207.11 V214.16 M167.83,207.70 H175.17 M171.50,203.72 V211.68 M175.17,208.40 H182.50 M178.83,204.53 V212.28 M182.50,209.93 H189.83 M186.17,206.29 V213.57 M189.83,209.11 H197.17 M193.50,205.34 V212.87 M197.17,216.74 H204.50 M200.83,214.45 V219.03 M204.50,214.86 H211.83 M208.17,212.13 V217.59 M211.83,213.57 H219.17 M215.50,210.57 V216.56 M219.17,214.16 H226.50 M222.83,211.28 V217.03 M226.50,211.81 H233.83 M230.17,208.49 V215.13 M233.83,217.44 H241.17 M237.50,215.34 V219.54 M241.17,216.86 H248.50 M244.83,214.60 V219.11 M248.50,217.44 H255.83 M252.17,215.34 V219.54 M255.83,214.98 H263.17 M259.50,212.27 V217.68 M263.17,216.74 H270.50 M266.83,214.45 V219.03 M270.50,209.11 H277.83 M274.17,205.34 V212.87 M277.83,220.03 H285.17 M281.50,218.85 V221.20 M285.17,217.68 H292.50 M288.83,215.64 V219.71 M292.50,214.62 H299.83 M296.17,211.85 V217.40 M299.83,214.62 H307.17 M303.50,211.85 V217.40 M307.17,220.03 H314.50 M310.83,218.85 V221.20" fill="none" stroke="#000" stroke-width="1.3"/>
<path d="M50.50,221.20 V214.90 M50.50,21.60 V27.90 M68.83,221.20 V217.90 M68.83,21.60 V24.90 M87.17,221.20 V217.90 M87.17,21.60 V24.90 M105.50,221.20 V217.90 M105.50,21.60 V24.90 M123.83,221.20 V214.90 M123.83,21.60 V27.90 M142.17,221.20 V217.90 M142.17,21.60 V24.90 M160.50,221.20 V217.90 M160.50,21.60 V24.90 M178.83,221.20 V217.90 M178.83,21.60 V24.90 M197.17,221.20 V214.90 M197.17,21.60 V27.90 M215.50,221.20 V217.90 M215.50,21.60 V24.90 M233.83,221.20 V217.90 M233.83,21.60 V24.90 M252.17,221.20 V217.90 M252.17,21.60 V24.90 M270.50,221.20 V214.90 M270.50,21.60 V27.90 M288.83,221.20 V217.90 M288.83,21.60 V24.90 M307.17,221.20 V217.90 M307.17,21.60 V24.90 M50.50,221.20 H56.80 M314.50,221.20 H308.20 M50.50,215.33 H53.80 M314.50,215.33 H311.20 M50.50,209.46 H53.80 M314.50,209.46 H311.20 M50.50,203.59 H53.80 M314.50,203.59 H311.20 M50.50,197.72 H56.80 M314.50,197.72 H308.20 M50.50,191.85 H53.80 M314.50,191.85 H311.20 M50.50,185.98 H53.80 M314.50,185.98 H311.20 M50.50,180.11 H53.80 M314.50,180.11 H311.20 M50.50,174.24 H56.80 M314.50,174.24 H308.20 M50.50,168.36 H53.80 M314.50,168.36 H311.20 M50.50,162.49 H53.80 M314.50,162.49 H311.20 M50.50,156.62 H53.80 M314.50,156.62 H311.20 M50.50,150.75 H56.80 M314.50,150.75 H308.20 M50.50,144.88 H53.80 M314.50,144.88 H311.20 M50.50,139.01 H53.80 M314.50,139.01 H311.20 M50.50,133.14 H53.80 M314.50,133.14 H311.20 M50.50,127.27 H56.80 M314.50,127.27 H308.20 M50.50,121.40 H53.80 M314.50,121.40 H311.20 M50.50,115.53 H53.80 M314.50,115.53 H311.20 M50.50,109.66 H53.80 M314.50,109.66 H311.20 M50.50,103.79 H56.80 M314.50,103.79 H308.20 M50.50,97.92 H53.80 M314.50,97.92 H311.20 M50.50,92.05 H53.80 M314.50,92.05 H311.20 M50.50,86.18 H53.80 M314.50,86.18 H311.20 M50.50,80.31 H56.80 M314.50,80.31 H308.20 M50.50,74.44 H53.80 M314.50,74.44 H311.20 M50.50,68.56 H53.80 M314.50,68.56 H311.20 M50.50,62.69 H53.80 M314.50,62.69 H311.20 M50.50,56.82 H56.80 M314.50,56.82 H308.20 M50.50,50.95 H53.80 M314.50,50.95 H311.20 M50.50,45.08 H53.80 M314.50,45.08 H311.20 M50.50,39.21 H53.80 M314.50,39.21 H311.20 M50.50,33.34 H56.80 M314.50,33.34 H308.20 M50.50,27.47 H53.80 M314.50,27.47 H311.20 M50.50,21.60 H53.80 M314.50,21.60 H311.20" fill="none" stroke="#000" stroke-width="1.45"/>
<rect x="50.50" y="21.60" width="264.00" height="199.60" fill="none" stroke="#000" stroke-width="1.4"/>
<g font-size="14.4" fill="#000"><text x="46.6" y="226.20" text-anchor="end">0</text><text x="46.6" y="202.72" text-anchor="end">20</text><text x="46.6" y="179.24" text-anchor="end">40</text><text x="46.6" y="155.75" text-anchor="end">60</text><text x="46.6" y="132.27" text-anchor="end">80</text><text x="46.6" y="108.79" text-anchor="end">100</text><text x="46.6" y="85.31" text-anchor="end">120</text><text x="46.6" y="61.82" text-anchor="end">140</text><text x="46.6" y="38.34" text-anchor="end">160</text><text x="50.50" y="237.2" text-anchor="middle">5400</text><text x="123.83" y="237.2" text-anchor="middle">5600</text><text x="197.17" y="237.2" text-anchor="middle">5800</text><text x="270.50" y="237.2" text-anchor="middle">6000</text></g>
<g transform="translate(14.0,204.1) rotate(-90)"><text x="0.00" y="0.00" font-size="17.00" fill="#262626" textLength="181.5" lengthAdjust="spacing"><tspan >Candidates / (20 MeV/</tspan><tspan font-style="italic">c</tspan><tspan dy="-5.80" font-size="11.00">2</tspan><tspan dy="5.80">)</tspan></text></g>
<text x="167.30" y="255.60" font-size="16.00" fill="#000" textLength="75.3" lengthAdjust="spacingAndGlyphs"><tspan font-style="italic">m</tspan><tspan >(</tspan><tspan font-style="italic">Λ</tspan><tspan font-style="italic">K</tspan><tspan dy="-3.80" font-size="10.50">+</tspan><tspan dy="3.80" font-style="italic">K</tspan><tspan dy="-3.80" font-size="10.50">−</tspan><tspan dy="3.80">)</tspan></text>
<path d="M186.6,244.2 H197.5" stroke="#000" stroke-width="1"/>
<text x="247.60" y="255.50" font-size="16.00" fill="#000" textLength="67.6" lengthAdjust="spacingAndGlyphs"><tspan >[MeV/</tspan><tspan font-style="italic">c</tspan><tspan dy="-5.50" font-size="10.50">2</tspan><tspan dy="5.50">]</tspan></text>
<g><text x="186.30" y="39.50" font-size="14.60" fill="#222" textLength="57.6" lengthAdjust="spacingAndGlyphs"><tspan >LHCb 9 fb</tspan></text>
<text x="244.00" y="39.50" font-size="10.00" fill="#222" ><tspan dy="-3.60" font-size="10.00">−</tspan><tspan dx="0.20" dy="-1.60" font-size="10.00">1</tspan></text>
<text x="185.30" y="52.30" font-size="12.00" fill="#222" textLength="88.4" lengthAdjust="spacingAndGlyphs"><tspan font-style="italic">m</tspan><tspan >(</tspan><tspan font-style="italic">ΛK</tspan><tspan dy="-4.50" font-size="8.00">+</tspan><tspan dy="4.50">)</tspan><tspan >&lt; 2.9 GeV</tspan></text>
<text x="185.30" y="68.00" font-size="12.00" fill="#222" textLength="93" lengthAdjust="spacingAndGlyphs"><tspan font-style="italic">m</tspan><tspan >(</tspan><tspan font-style="italic">K</tspan><tspan dy="-4.50" font-size="8.00">+</tspan><tspan dy="4.50" font-style="italic">K</tspan><tspan dy="-4.50" font-size="8.00">−</tspan><tspan dy="4.50">)</tspan><tspan >&gt; 2.2 GeV</tspan></text>
<path d="M185.4,85.40 H199.8" stroke="#0000ff" stroke-width="1.6" />
<path d="M185.4,103.80 H199.8" stroke="#ff0000" stroke-width="1.8" />
<path d="M185.4,122.30 H199.8" stroke="#a0605a" stroke-width="1.3" />
<path d="M185.4,140.80 H199.8" stroke="#ff00ff" stroke-width="1.6" stroke-dasharray="3.2,1.8"/>
<path d="M185.4,159.40 H199.8" stroke="#00ffff" stroke-width="1.5" stroke-dasharray="1.6,1.6"/>
<path d="M185.4,178.00 H199.8" stroke="#0000ff" stroke-width="1.7" stroke-dasharray="1.6,1.4"/>
<path d="M185.4,196.80 H199.8" stroke="#5555ee" stroke-width="1" stroke-dasharray="1.5,1.5"/>
<text x="202.50" y="89.20" font-size="12.80" fill="#222" textLength="40.3" lengthAdjust="spacingAndGlyphs"><tspan >Total fit</tspan></text>
<text x="202.80" y="107.40" font-size="12.80" fill="#222" ><tspan x="202.80" font-style="italic">Λ</tspan><tspan x="212.20" dy="3.80" font-style="italic" font-size="8.50">b</tspan><tspan x="211.90" dy="-12.20" font-size="8.50">0</tspan><tspan x="232.10" dy="8.40" font-style="italic">Λ</tspan><tspan font-style="italic">K</tspan><tspan dy="-3.00" font-size="10.50">+</tspan><tspan dy="3.00" font-style="italic">K</tspan><tspan dy="-3.60" font-size="10.00">−</tspan></text>
<path d="M216.30,104.00 H227.00 M224.10,101.80 L227.30,104.00 L224.10,106.20" fill="none" stroke="#222" stroke-width="0.9"/>
<path d="M203.4,98.80 H211" stroke="#222" stroke-width="1"/>
<path d="M232.4,98.80 H240.4" stroke="#222" stroke-width="1"/>
<text x="202.80" y="125.90" font-size="12.80" fill="#222" ><tspan x="202.80" font-style="italic">Ξ</tspan><tspan x="212.20" dy="3.80" font-style="italic" font-size="8.50">b</tspan><tspan x="211.90" dy="-12.20" font-size="8.50">0</tspan><tspan x="232.10" dy="8.40" font-style="italic">Λ</tspan><tspan font-style="italic">K</tspan><tspan dy="-3.00" font-size="10.50">+</tspan><tspan dy="3.00" font-style="italic">K</tspan><tspan dy="-3.60" font-size="10.00">−</tspan></text>
<path d="M216.30,122.50 H227.00 M224.10,120.30 L227.30,122.50 L224.10,124.70" fill="none" stroke="#222" stroke-width="0.9"/>
<path d="M203.4,117.30 H211" stroke="#222" stroke-width="1"/>
<path d="M232.4,117.30 H240.4" stroke="#222" stroke-width="1"/>
<text x="202.80" y="144.40" font-size="12.80" fill="#222" ><tspan x="202.80" font-style="italic">Λ</tspan><tspan x="212.20" dy="3.80" font-style="italic" font-size="8.50">b</tspan><tspan x="211.90" dy="-12.20" font-size="8.50">0</tspan><tspan x="232.10" dy="8.40" font-style="italic">Λ</tspan><tspan font-style="italic">K</tspan><tspan dy="-3.60" font-size="10.00">−</tspan><tspan dy="3.60" font-style="italic">π</tspan><tspan dy="-3.00" font-size="10.50">+</tspan><tspan dy="3.00">(mis)</tspan></text>
<path d="M216.30,141.00 H227.00 M224.10,138.80 L227.30,141.00 L224.10,143.20" fill="none" stroke="#222" stroke-width="0.9"/>
<path d="M203.4,135.80 H211" stroke="#222" stroke-width="1"/>
<path d="M232.4,135.80 H240.4" stroke="#222" stroke-width="1"/>
<text x="202.80" y="181.60" font-size="12.80" fill="#222" ><tspan x="202.80" font-style="italic">Λ</tspan><tspan x="212.20" dy="3.80" font-style="italic" font-size="8.50">b</tspan><tspan x="211.90" dy="-12.20" font-size="8.50">0</tspan><tspan x="232.10" dy="8.40" font-style="italic">Λ</tspan><tspan font-style="italic">K</tspan><tspan dy="-3.00" font-size="10.50">+</tspan><tspan dy="3.00" font-style="italic">K</tspan><tspan dy="-3.60" font-size="10.00">−</tspan><tspan dy="3.60" font-style="italic">γ</tspan></text>
<path d="M216.30,178.20 H227.00 M224.10,176.00 L227.30,178.20 L224.10,180.40" fill="none" stroke="#222" stroke-width="0.9"/>
<path d="M203.4,173.00 H211" stroke="#222" stroke-width="1"/>
<path d="M232.4,173.00 H240.4" stroke="#222" stroke-width="1"/>
<text x="202.80" y="200.40" font-size="12.80" fill="#222" ><tspan x="202.80" font-style="italic">Λ</tspan><tspan x="212.20" dy="3.80" font-style="italic" font-size="8.50">b</tspan><tspan x="211.90" dy="-12.20" font-size="8.50">0</tspan><tspan x="232.10" dy="8.40" font-style="italic">Λ</tspan><tspan font-style="italic">K</tspan><tspan dy="-3.00" font-size="10.50">+</tspan><tspan dy="3.00" font-style="italic">K</tspan><tspan dy="-3.60" font-size="10.00">−</tspan><tspan dy="3.60" font-style="italic">π</tspan><tspan dy="-4.20" font-size="9.50">0</tspan></text>
<path d="M216.30,197.00 H227.00 M224.10,194.80 L227.30,197.00 L224.10,199.20" fill="none" stroke="#222" stroke-width="0.9"/>
<path d="M203.4,191.80 H211" stroke="#222" stroke-width="1"/>
<path d="M232.4,191.80 H240.4" stroke="#222" stroke-width="1"/>
<text x="203.00" y="163.80" font-size="12.80" fill="#222" textLength="56.8" lengthAdjust="spacingAndGlyphs"><tspan >Comb. bkg.</tspan></text></g></g>
<path d="M130.2,52.1 H457.5" stroke="#ff0000" stroke-width="2.2" stroke-dasharray="6.4,4.66"/>
</svg>
</body></html>
